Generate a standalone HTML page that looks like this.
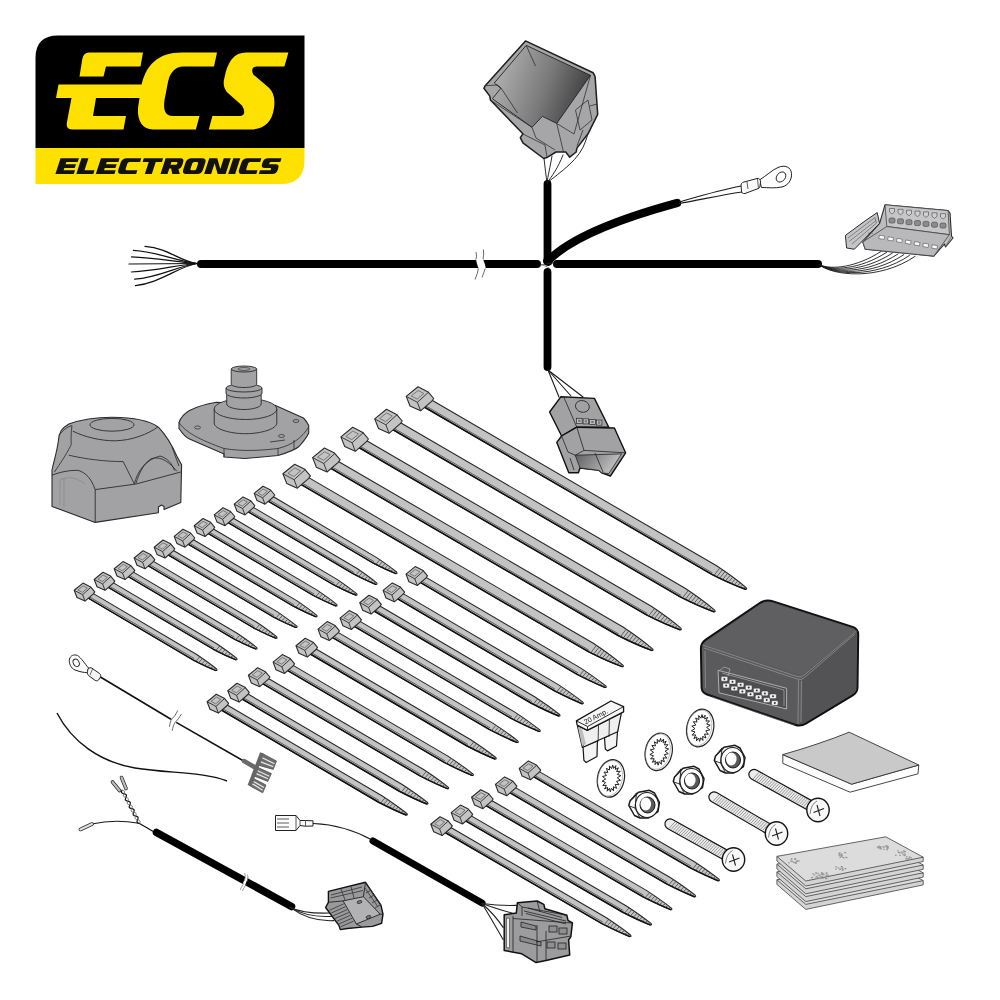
<!DOCTYPE html>
<html><head><meta charset="utf-8"><style>html,body{margin:0;padding:0;background:#fff;}svg{display:block;}</style></head>
<body><svg width="1000" height="1000" viewBox="0 0 1000 1000"><path d="M35.5,148 L35.5,58 Q35.5,35.5 58,35.5 L304.5,35.5 L304.5,148 Z" fill="#000"/>
<path d="M35.5,147.9 L304.5,147.9 L304.5,160 Q304.5,184 280.5,184 L35.5,184 Z" fill="#ffe100"/>
<path d="M89,52.5 L143,52.5 L140.5,66.5 L106,66.5 L103.5,76.5 L79.5,76.5 L82.3,59 Q83.5,52.5 89,52.5 Z" fill="#ffe100"/>
<path d="M58.5,84.5 L146,84.5 L143,98 L96,98 L93,115.9 L126,115.9 L123.5,129.5 L72,129.5 Q66,129.5 66.8,123 L71.5,98 L56,98 Z" fill="#ffe100"/>
<path d="M182,52.5 L217,52.5 L214,66.5 L183,66.5 C176,66.5 170,72 168,82 L164.5,100 C163,111 165.5,115.9 173,115.9 L199.5,115.9 L195.9,129.5 L153,129.5 C143,129.5 137,121 138,108 L141,88 C145,65 158,52.5 182,52.5 Z" fill="#ffe100"/>
<path d="M246,52.5 L288.4,52.5 L284.4,66.5 L257,66.5 Q250,67 253.2,74.4 L269.2,88 Q276,95 274,108 Q271,129.5 250,129.5 L208.8,129.5 L212.4,115.9 L241,115.9 Q247,114 242,105.6 L227.6,92.8 Q222,87 224.4,78 Q229,52.5 246,52.5 Z" fill="#ffe100"/>
<path transform="translate(55.4,174.1) skewX(-18)" d="M0,0 L0,-15.8 L18.4,-15.8 L18.4,-12.05 L7.0,-12.05 L7.0,-9.775 L17.4,-9.775 L17.4,-6.025 L7.0,-6.025 L7.0,-3.75 L18.4,-3.75 L18.4,0 Z" fill="#111" fill-rule="evenodd"/>
<path transform="translate(76.32,174.1) skewX(-18)" d="M0,0 L0,-15.8 L7.0,-15.8 L7.0,-3.75 L17.0,-3.75 L17.0,0 Z" fill="#111" fill-rule="evenodd"/>
<path transform="translate(95.84,174.1) skewX(-18)" d="M0,0 L0,-15.8 L18.6,-15.8 L18.6,-12.05 L7.0,-12.05 L7.0,-9.775 L17.6,-9.775 L17.6,-6.025 L7.0,-6.025 L7.0,-3.75 L18.6,-3.75 L18.6,0 Z" fill="#111" fill-rule="evenodd"/>
<path transform="translate(116.96,174.1) skewX(-18)" d="M19.2,-15.8 L4.5,-15.8 Q0,-15.8 0,-11.3 L0,-4.5 Q0,0 4.5,0 L19.2,0 L19.2,-3.75 L8.5,-3.75 Q7.0,-3.75 7.0,-5.25 L7.0,-10.55 Q7.0,-12.05 8.5,-12.05 L19.2,-12.05 Z" fill="#111" fill-rule="evenodd"/>
<path transform="translate(138.68,174.1) skewX(-18)" d="M0,-15.8 L19.3,-15.8 L19.3,-12.05 L13.15,-12.05 L13.15,0 L6.15,0 L6.15,-12.05 L0,-12.05 Z" fill="#111" fill-rule="evenodd"/>
<path transform="translate(160.5,174.1) skewX(-18)" d="M0,0 L0,-15.8 L14.8,-15.8 Q18.8,-15.8 18.8,-11.8 L18.8,-9.700000000000001 Q18.8,-5.700000000000001 16.3,-5.100000000000001 L19.3,0 L11.8,0 L8.8,-5.700000000000001 L7.0,-5.700000000000001 L7.0,0 Z M7.0,-12.05 L12.3,-12.05 Q13.3,-12.05 13.3,-11.05 L13.3,-10.450000000000001 Q13.3,-9.450000000000001 12.3,-9.450000000000001 L7.0,-9.450000000000001 Z" fill="#111" fill-rule="evenodd"/>
<path transform="translate(181.82,174.1) skewX(-18)" d="M4.5,-15.8 L15.3,-15.8 Q19.8,-15.8 19.8,-11.3 L19.8,-4.5 Q19.8,0 15.3,0 L4.5,0 Q0,0 0,-4.5 L0,-11.3 Q0,-15.8 4.5,-15.8 Z M8.5,-12.05 L11.3,-12.05 Q12.8,-12.05 12.8,-10.55 L12.8,-5.25 Q12.8,-3.75 11.3,-3.75 L8.5,-3.75 Q7.0,-3.75 7.0,-5.25 L7.0,-10.55 Q7.0,-12.05 8.5,-12.05 Z" fill="#111" fill-rule="evenodd"/>
<path transform="translate(204.14,174.1) skewX(-18)" d="M0,0 L0,-15.8 L8.0,-15.8 L14.5,-5 L14.5,-15.8 L21.5,-15.8 L21.5,0 L13.5,0 L7.0,-10.8 L7.0,0 Z" fill="#111" fill-rule="evenodd"/>
<path transform="translate(228.16,174.1) skewX(-18)" d="M0,0 L0,-15.8 L7.0,-15.8 L7.0,0 Z" fill="#111" fill-rule="evenodd"/>
<path transform="translate(237.68,174.1) skewX(-18)" d="M18.6,-15.8 L4.5,-15.8 Q0,-15.8 0,-11.3 L0,-4.5 Q0,0 4.5,0 L18.6,0 L18.6,-3.75 L8.5,-3.75 Q7.0,-3.75 7.0,-5.25 L7.0,-10.55 Q7.0,-12.05 8.5,-12.05 L18.6,-12.05 Z" fill="#111" fill-rule="evenodd"/>
<path transform="translate(258.8,174.1) skewX(-18)" d="M17.6,-15.8 L4,-15.8 Q0,-15.8 0,-11.8 L0,-10.025 Q0,-6.025 4,-6.025 L9.400000000000002,-6.025 Q10.600000000000001,-6.025 10.600000000000001,-4.825 L10.600000000000001,-4.95 Q10.600000000000001,-3.75 9.400000000000002,-3.75 L0,-3.75 L0,0 L13.600000000000001,0 Q17.6,0 17.6,-4 L17.6,-5.775 Q17.6,-9.775 13.600000000000001,-9.775 L8.2,-9.775 Q7.0,-9.775 7.0,-10.975 L7.0,-10.850000000000001 Q7.0,-12.05 8.2,-12.05 L17.6,-12.05 Z" fill="#111" fill-rule="evenodd"/>
<path d="M201,264 L537,264" fill="none" stroke="#000" stroke-width="8" stroke-linecap="round" stroke-linejoin="round"/>
<path d="M476,252 Q477,256 476,260 Q477,265 478.5,267.5 Q478,273 475,279.5 M483.5,249.5 Q484,255 483,260 Q485,264 485.5,267.5 Q484,272 482,277.5" fill="none" stroke="#444" stroke-width="0.8"/>
<path d="M476,259 Q477,264 478.5,268.5 L485.8,268.5 Q485,264 483,259 Z" fill="#fff"/>
<path d="M557,264 L818,264" fill="none" stroke="#000" stroke-width="8" stroke-linecap="round" stroke-linejoin="round"/>
<path d="M547.5,184 L547.5,258" fill="none" stroke="#000" stroke-width="7.8" stroke-linecap="round" stroke-linejoin="round"/>
<path d="M547.5,272 L547.5,367" fill="none" stroke="#000" stroke-width="7.8" stroke-linecap="round" stroke-linejoin="round"/>
<circle cx="548" cy="261" r="5" fill="#000"/>
<path d="M548,261 Q577.4,230.2 677,203" fill="none" stroke="#000" stroke-width="8.2" stroke-linecap="round" stroke-linejoin="round"/>
<path d="M540,264 Q546,266 549,268 M541,265 Q545,264 553,263" fill="none" stroke="#333" stroke-width="0.6"/>
<path d="M197,263.5 C178,260.9 170.0,248.5 145,246.4" fill="none" stroke="#111" stroke-width="1.2" stroke-linecap="round"/>
<path d="M197,263.5 C178,261.5 158.4,252.0 133.4,250.4" fill="none" stroke="#111" stroke-width="1.2" stroke-linecap="round"/>
<path d="M197,263.5 C178,262.4 156.4,257.7 131.4,256.8" fill="none" stroke="#111" stroke-width="1.2" stroke-linecap="round"/>
<path d="M197,263.5 C178,263.5 154.0,264.0 129,264" fill="none" stroke="#111" stroke-width="1.2" stroke-linecap="round"/>
<path d="M197,263.5 C178,264.7 156.4,271.0 131.4,272" fill="none" stroke="#111" stroke-width="1.2" stroke-linecap="round"/>
<path d="M197,263.5 C178,265.8 159.6,277.4 134.6,279.2" fill="none" stroke="#111" stroke-width="1.2" stroke-linecap="round"/>
<path d="M197,263.5 C178,266.7 160.4,283.0 135.4,285.6" fill="none" stroke="#111" stroke-width="1.2" stroke-linecap="round"/>
<path d="M428.2,398.0 L716.6,565.8 Q734.1,577.4 746.2,587.7 Q747.5,589.5 745.3,589.2 Q730.4,583.8 711.7,574.3 L423.3,406.5 Z" fill="#c3c3c3" stroke="#262626" stroke-width="1.05" stroke-linejoin="round"/>
<path d="M423.3,406.5 L711.7,574.3 Q730.4,583.8 745.3,589.2" fill="none" stroke="#111" stroke-width="1.5" stroke-linecap="round"/>
<path d="M424.2,405.0 L712.5,572.9" stroke="#333" stroke-width="0.7"/>
<path d="M719.6,568.2 L714.2,575.2 M722.3,569.9 L717.0,576.6 M724.9,571.7 L719.8,578.0 M727.5,573.5 L722.7,579.4 M730.1,575.4 L725.6,580.7 M732.6,577.3 L728.5,582.0 M735.1,579.3 L731.5,583.2 M737.7,581.3 L734.5,584.4 M740.1,583.3 L737.4,585.6 M742.6,585.3 L740.4,586.7 M745.1,587.4 L743.4,587.8 " stroke="#4a4a4a" stroke-width="0.85"/>
<path d="M418.0,386.8 L428.1,391.9 L433.7,398.5 L431.8,401.2 L420.6,410.8 L410.0,406.0 L406.2,396.4Z" fill="#c3c3c3" stroke="#2a2a2a" stroke-width="1.1" stroke-linejoin="round"/>
<path d="M406.2,396.4 L417.4,402.3 L428.6,392.1 M417.4,402.3 L420.6,410.8" fill="none" stroke="#2a2a2a" stroke-width="0.9"/>
<path d="M411.2,396.0 L418.1,390.5 L423.8,393.5 L417.2,399.1Z" fill="none" stroke="#555" stroke-width="0.7"/>
<path d="M396.7,420.5 L685.1,588.3 Q702.6,599.9 714.7,610.2 Q716.0,612.0 713.8,611.7 Q698.9,606.3 680.2,596.8 L391.8,429.0 Z" fill="#c3c3c3" stroke="#262626" stroke-width="1.05" stroke-linejoin="round"/>
<path d="M391.8,429.0 L680.2,596.8 Q698.9,606.3 713.8,611.7" fill="none" stroke="#111" stroke-width="1.5" stroke-linecap="round"/>
<path d="M392.7,427.5 L681.0,595.4" stroke="#333" stroke-width="0.7"/>
<path d="M688.1,590.7 L682.7,597.7 M690.8,592.4 L685.5,599.1 M693.4,594.2 L688.3,600.5 M696.0,596.0 L691.2,601.9 M698.6,597.9 L694.1,603.2 M701.1,599.8 L697.0,604.5 M703.6,601.8 L700.0,605.7 M706.2,603.8 L703.0,606.9 M708.6,605.8 L705.9,608.1 M711.1,607.8 L708.9,609.2 M713.6,609.9 L711.9,610.3 " stroke="#4a4a4a" stroke-width="0.85"/>
<path d="M386.5,409.3 L396.6,414.4 L402.2,421.0 L400.3,423.7 L389.1,433.3 L378.5,428.5 L374.7,418.9Z" fill="#c3c3c3" stroke="#2a2a2a" stroke-width="1.1" stroke-linejoin="round"/>
<path d="M374.7,418.9 L385.9,424.8 L397.1,414.6 M385.9,424.8 L389.1,433.3" fill="none" stroke="#2a2a2a" stroke-width="0.9"/>
<path d="M379.7,418.5 L386.6,413.0 L392.3,416.0 L385.7,421.6Z" fill="none" stroke="#555" stroke-width="0.7"/>
<path d="M362.9,438.5 L651.3,606.3 Q668.8,617.9 680.9,628.2 Q682.2,630.0 680.0,629.7 Q665.1,624.3 646.4,614.8 L358.0,447.0 Z" fill="#c3c3c3" stroke="#262626" stroke-width="1.05" stroke-linejoin="round"/>
<path d="M358.0,447.0 L646.4,614.8 Q665.1,624.3 680.0,629.7" fill="none" stroke="#111" stroke-width="1.5" stroke-linecap="round"/>
<path d="M358.9,445.5 L647.2,613.4" stroke="#333" stroke-width="0.7"/>
<path d="M654.3,608.7 L648.9,615.7 M657.0,610.4 L651.7,617.1 M659.6,612.2 L654.5,618.5 M662.2,614.0 L657.4,619.9 M664.8,615.9 L660.3,621.2 M667.3,617.8 L663.2,622.5 M669.8,619.8 L666.2,623.7 M672.4,621.8 L669.2,624.9 M674.8,623.8 L672.1,626.1 M677.3,625.8 L675.1,627.2 M679.8,627.9 L678.1,628.3 " stroke="#4a4a4a" stroke-width="0.85"/>
<path d="M352.7,427.3 L362.8,432.4 L368.4,439.0 L366.5,441.7 L355.3,451.3 L344.7,446.5 L340.9,436.9Z" fill="#c3c3c3" stroke="#2a2a2a" stroke-width="1.1" stroke-linejoin="round"/>
<path d="M340.9,436.9 L352.1,442.8 L363.3,432.6 M352.1,442.8 L355.3,451.3" fill="none" stroke="#2a2a2a" stroke-width="0.9"/>
<path d="M345.9,436.5 L352.8,431.0 L358.5,434.0 L351.9,439.6Z" fill="none" stroke="#555" stroke-width="0.7"/>
<path d="M334.6,459.2 L623.0,627.0 Q640.5,638.6 652.6,648.9 Q653.9,650.7 651.7,650.4 Q636.8,645.0 618.1,635.5 L329.7,467.7 Z" fill="#c3c3c3" stroke="#262626" stroke-width="1.05" stroke-linejoin="round"/>
<path d="M329.7,467.7 L618.1,635.5 Q636.8,645.0 651.7,650.4" fill="none" stroke="#111" stroke-width="1.5" stroke-linecap="round"/>
<path d="M330.6,466.2 L618.9,634.1" stroke="#333" stroke-width="0.7"/>
<path d="M626.0,629.4 L620.6,636.4 M628.7,631.1 L623.4,637.8 M631.3,632.9 L626.2,639.2 M633.9,634.7 L629.1,640.6 M636.5,636.6 L632.0,641.9 M639.0,638.5 L634.9,643.2 M641.5,640.5 L637.9,644.4 M644.1,642.5 L640.9,645.6 M646.5,644.5 L643.8,646.8 M649.0,646.5 L646.8,647.9 M651.5,648.6 L649.8,649.0 " stroke="#4a4a4a" stroke-width="0.85"/>
<path d="M324.4,448.0 L334.5,453.1 L340.1,459.7 L338.2,462.4 L327.0,472.0 L316.4,467.2 L312.6,457.6Z" fill="#c3c3c3" stroke="#2a2a2a" stroke-width="1.1" stroke-linejoin="round"/>
<path d="M312.6,457.6 L323.8,463.5 L335.0,453.3 M323.8,463.5 L327.0,472.0" fill="none" stroke="#2a2a2a" stroke-width="0.9"/>
<path d="M317.6,457.2 L324.5,451.7 L330.2,454.7 L323.6,460.3Z" fill="none" stroke="#555" stroke-width="0.7"/>
<path d="M304.9,475.4 L593.3,643.2 Q610.8,654.8 622.9,665.1 Q624.2,666.9 622.0,666.6 Q607.1,661.2 588.4,651.7 L300.0,483.9 Z" fill="#c3c3c3" stroke="#262626" stroke-width="1.05" stroke-linejoin="round"/>
<path d="M300.0,483.9 L588.4,651.7 Q607.1,661.2 622.0,666.6" fill="none" stroke="#111" stroke-width="1.5" stroke-linecap="round"/>
<path d="M300.9,482.4 L589.2,650.3" stroke="#333" stroke-width="0.7"/>
<path d="M596.3,645.6 L590.9,652.6 M599.0,647.3 L593.7,654.0 M601.6,649.1 L596.5,655.4 M604.2,650.9 L599.4,656.8 M606.8,652.8 L602.3,658.1 M609.3,654.7 L605.2,659.4 M611.8,656.7 L608.2,660.6 M614.4,658.7 L611.2,661.8 M616.8,660.7 L614.1,663.0 M619.3,662.7 L617.1,664.1 M621.8,664.8 L620.1,665.2 " stroke="#4a4a4a" stroke-width="0.85"/>
<path d="M294.7,464.2 L304.8,469.3 L310.4,475.9 L308.5,478.6 L297.3,488.2 L286.7,483.4 L282.9,473.8Z" fill="#c3c3c3" stroke="#2a2a2a" stroke-width="1.1" stroke-linejoin="round"/>
<path d="M282.9,473.8 L294.1,479.7 L305.3,469.5 M294.1,479.7 L297.3,488.2" fill="none" stroke="#2a2a2a" stroke-width="0.9"/>
<path d="M287.9,473.4 L294.8,467.9 L300.5,470.9 L293.9,476.5Z" fill="none" stroke="#555" stroke-width="0.7"/>
<path d="M90.5,591.9 L196.7,654.5 Q208.6,662.5 216.6,669.0 Q217.9,670.8 215.7,670.5 Q206.1,666.7 193.4,660.1 L87.2,597.5 Z" fill="#c3c3c3" stroke="#262626" stroke-width="1.05" stroke-linejoin="round"/>
<path d="M87.2,597.5 L193.4,660.1 Q206.1,666.7 215.7,670.5" fill="none" stroke="#111" stroke-width="1.3" stroke-linecap="round"/>
<path d="M88.0,596.0 L194.2,658.6" stroke="#333" stroke-width="0.7"/>
<path d="M199.8,656.8 L195.8,661.1 M202.5,658.6 L198.7,662.6 M205.1,660.5 L201.7,664.0 M207.7,662.5 L204.7,665.3 M210.3,664.5 L207.7,666.6 M212.9,666.6 L210.7,667.8 M215.4,668.7 L213.8,669.0 " stroke="#4a4a4a" stroke-width="0.85"/>
<path d="M83.0,583.1 L90.6,586.9 L94.8,591.9 L93.4,593.9 L85.0,601.1 L77.0,597.5 L74.2,590.3Z" fill="#c3c3c3" stroke="#2a2a2a" stroke-width="1.1" stroke-linejoin="round"/>
<path d="M74.2,590.3 L82.6,594.7 L91.0,587.1 M82.6,594.7 L85.0,601.1" fill="none" stroke="#2a2a2a" stroke-width="0.9"/>
<path d="M77.9,590.0 L83.1,585.9 L87.4,588.1 L82.4,592.3Z" fill="none" stroke="#555" stroke-width="0.7"/>
<path d="M110.5,581.1 L216.7,643.7 Q228.6,651.7 236.6,658.2 Q237.9,660.0 235.7,659.7 Q226.1,655.9 213.4,649.3 L107.2,586.7 Z" fill="#c3c3c3" stroke="#262626" stroke-width="1.05" stroke-linejoin="round"/>
<path d="M107.2,586.7 L213.4,649.3 Q226.1,655.9 235.7,659.7" fill="none" stroke="#111" stroke-width="1.3" stroke-linecap="round"/>
<path d="M108.0,585.3 L214.2,647.9" stroke="#333" stroke-width="0.7"/>
<path d="M219.8,646.0 L215.8,650.4 M222.5,647.8 L218.7,651.8 M225.1,649.7 L221.7,653.2 M227.7,651.7 L224.7,654.5 M230.3,653.7 L227.7,655.8 M232.9,655.8 L230.7,657.1 M235.4,657.9 L233.8,658.3 " stroke="#4a4a4a" stroke-width="0.85"/>
<path d="M103.0,572.3 L110.6,576.1 L114.8,581.1 L113.4,583.1 L105.0,590.3 L97.0,586.7 L94.2,579.5Z" fill="#c3c3c3" stroke="#2a2a2a" stroke-width="1.1" stroke-linejoin="round"/>
<path d="M94.2,579.5 L102.6,583.9 L111.0,576.3 M102.6,583.9 L105.0,590.3" fill="none" stroke="#2a2a2a" stroke-width="0.9"/>
<path d="M97.9,579.2 L103.1,575.1 L107.4,577.3 L102.4,581.5Z" fill="none" stroke="#555" stroke-width="0.7"/>
<path d="M130.5,570.4 L236.7,633.0 Q248.6,640.9 256.6,647.4 Q257.9,649.3 255.7,649.0 Q246.1,645.1 233.4,638.6 L127.2,576.0 Z" fill="#c3c3c3" stroke="#262626" stroke-width="1.05" stroke-linejoin="round"/>
<path d="M127.2,576.0 L233.4,638.6 Q246.1,645.1 255.7,649.0" fill="none" stroke="#111" stroke-width="1.3" stroke-linecap="round"/>
<path d="M128.0,574.5 L234.2,637.1" stroke="#333" stroke-width="0.7"/>
<path d="M239.8,635.2 L235.8,639.6 M242.5,637.1 L238.7,641.0 M245.1,639.0 L241.7,642.4 M247.7,640.9 L244.7,643.8 M250.3,643.0 L247.7,645.1 M252.9,645.0 L250.7,646.3 M255.4,647.1 L253.8,647.5 " stroke="#4a4a4a" stroke-width="0.85"/>
<path d="M123.0,561.6 L130.6,565.4 L134.8,570.4 L133.4,572.4 L125.0,579.6 L117.0,576.0 L114.2,568.8Z" fill="#c3c3c3" stroke="#2a2a2a" stroke-width="1.1" stroke-linejoin="round"/>
<path d="M114.2,568.8 L122.6,573.2 L131.0,565.6 M122.6,573.2 L125.0,579.6" fill="none" stroke="#2a2a2a" stroke-width="0.9"/>
<path d="M117.9,568.5 L123.1,564.4 L127.4,566.6 L122.4,570.8Z" fill="none" stroke="#555" stroke-width="0.7"/>
<path d="M150.5,559.6 L256.7,622.2 Q268.6,630.1 276.6,636.7 Q277.9,638.5 275.7,638.2 Q266.1,634.3 253.4,627.8 L147.2,565.2 Z" fill="#c3c3c3" stroke="#262626" stroke-width="1.05" stroke-linejoin="round"/>
<path d="M147.2,565.2 L253.4,627.8 Q266.1,634.3 275.7,638.2" fill="none" stroke="#111" stroke-width="1.3" stroke-linecap="round"/>
<path d="M148.0,563.7 L254.2,626.3" stroke="#333" stroke-width="0.7"/>
<path d="M259.8,624.5 L255.8,628.8 M262.5,626.3 L258.7,630.3 M265.1,628.2 L261.7,631.7 M267.7,630.2 L264.7,633.0 M270.3,632.2 L267.7,634.3 M272.9,634.2 L270.7,635.5 M275.4,636.3 L273.8,636.7 " stroke="#4a4a4a" stroke-width="0.85"/>
<path d="M143.0,550.8 L150.6,554.6 L154.8,559.6 L153.4,561.6 L145.0,568.8 L137.0,565.2 L134.2,558.0Z" fill="#c3c3c3" stroke="#2a2a2a" stroke-width="1.1" stroke-linejoin="round"/>
<path d="M134.2,558.0 L142.6,562.4 L151.0,554.8 M142.6,562.4 L145.0,568.8" fill="none" stroke="#2a2a2a" stroke-width="0.9"/>
<path d="M137.9,557.7 L143.1,553.6 L147.4,555.8 L142.4,560.0Z" fill="none" stroke="#555" stroke-width="0.7"/>
<path d="M170.5,548.8 L276.7,611.4 Q288.6,619.4 296.6,625.9 Q297.9,627.7 295.7,627.4 Q286.1,623.6 273.4,617.0 L167.2,554.4 Z" fill="#c3c3c3" stroke="#262626" stroke-width="1.05" stroke-linejoin="round"/>
<path d="M167.2,554.4 L273.4,617.0 Q286.1,623.6 295.7,627.4" fill="none" stroke="#111" stroke-width="1.3" stroke-linecap="round"/>
<path d="M168.0,553.0 L274.2,615.6" stroke="#333" stroke-width="0.7"/>
<path d="M279.8,613.7 L275.8,618.0 M282.5,615.5 L278.7,619.5 M285.1,617.4 L281.7,620.9 M287.7,619.4 L284.7,622.2 M290.3,621.4 L287.7,623.5 M292.9,623.5 L290.7,624.8 M295.4,625.6 L293.8,626.0 " stroke="#4a4a4a" stroke-width="0.85"/>
<path d="M163.0,540.0 L170.6,543.8 L174.8,548.8 L173.4,550.8 L165.0,558.0 L157.0,554.4 L154.2,547.2Z" fill="#c3c3c3" stroke="#2a2a2a" stroke-width="1.1" stroke-linejoin="round"/>
<path d="M154.2,547.2 L162.6,551.6 L171.0,544.0 M162.6,551.6 L165.0,558.0" fill="none" stroke="#2a2a2a" stroke-width="0.9"/>
<path d="M157.9,546.9 L163.1,542.8 L167.4,545.0 L162.4,549.2Z" fill="none" stroke="#555" stroke-width="0.7"/>
<path d="M190.5,538.0 L296.7,600.6 Q308.6,608.6 316.6,615.1 Q317.9,617.0 315.7,616.7 Q306.1,612.8 293.4,606.2 L187.2,543.6 Z" fill="#c3c3c3" stroke="#262626" stroke-width="1.05" stroke-linejoin="round"/>
<path d="M187.2,543.6 L293.4,606.2 Q306.1,612.8 315.7,616.7" fill="none" stroke="#111" stroke-width="1.3" stroke-linecap="round"/>
<path d="M188.0,542.2 L294.2,604.8" stroke="#333" stroke-width="0.7"/>
<path d="M299.8,602.9 L295.8,607.3 M302.5,604.8 L298.7,608.7 M305.1,606.7 L301.7,610.1 M307.7,608.6 L304.7,611.5 M310.3,610.6 L307.7,612.8 M312.9,612.7 L310.7,614.0 M315.4,614.8 L313.8,615.2 " stroke="#4a4a4a" stroke-width="0.85"/>
<path d="M183.0,529.2 L190.6,533.0 L194.8,538.0 L193.4,540.0 L185.0,547.2 L177.0,543.6 L174.2,536.4Z" fill="#c3c3c3" stroke="#2a2a2a" stroke-width="1.1" stroke-linejoin="round"/>
<path d="M174.2,536.4 L182.6,540.9 L191.0,533.2 M182.6,540.9 L185.0,547.2" fill="none" stroke="#2a2a2a" stroke-width="0.9"/>
<path d="M177.9,536.1 L183.1,532.0 L187.4,534.2 L182.4,538.4Z" fill="none" stroke="#555" stroke-width="0.7"/>
<path d="M210.5,527.3 L316.7,589.9 Q328.6,597.8 336.6,604.3 Q337.9,606.2 335.7,605.9 Q326.1,602.0 313.4,595.5 L207.2,532.9 Z" fill="#c3c3c3" stroke="#262626" stroke-width="1.05" stroke-linejoin="round"/>
<path d="M207.2,532.9 L313.4,595.5 Q326.1,602.0 335.7,605.9" fill="none" stroke="#111" stroke-width="1.3" stroke-linecap="round"/>
<path d="M208.0,531.4 L314.2,594.0" stroke="#333" stroke-width="0.7"/>
<path d="M319.8,592.1 L315.8,596.5 M322.5,594.0 L318.7,598.0 M325.1,595.9 L321.7,599.4 M327.7,597.9 L324.7,600.7 M330.3,599.9 L327.7,602.0 M332.9,601.9 L330.7,603.2 M335.4,604.0 L333.8,604.4 " stroke="#4a4a4a" stroke-width="0.85"/>
<path d="M203.0,518.5 L210.6,522.3 L214.8,527.3 L213.4,529.3 L205.0,536.5 L197.0,532.9 L194.2,525.7Z" fill="#c3c3c3" stroke="#2a2a2a" stroke-width="1.1" stroke-linejoin="round"/>
<path d="M194.2,525.7 L202.6,530.1 L211.0,522.5 M202.6,530.1 L205.0,536.5" fill="none" stroke="#2a2a2a" stroke-width="0.9"/>
<path d="M197.9,525.4 L203.1,521.3 L207.4,523.5 L202.4,527.7Z" fill="none" stroke="#555" stroke-width="0.7"/>
<path d="M230.5,516.5 L336.7,579.1 Q348.6,587.1 356.6,593.6 Q357.9,595.4 355.7,595.1 Q346.1,591.3 333.4,584.7 L227.2,522.1 Z" fill="#c3c3c3" stroke="#262626" stroke-width="1.05" stroke-linejoin="round"/>
<path d="M227.2,522.1 L333.4,584.7 Q346.1,591.3 355.7,595.1" fill="none" stroke="#111" stroke-width="1.3" stroke-linecap="round"/>
<path d="M228.0,520.6 L334.2,583.2" stroke="#333" stroke-width="0.7"/>
<path d="M339.8,581.4 L335.8,585.7 M342.5,583.2 L338.7,587.2 M345.1,585.1 L341.7,588.6 M347.7,587.1 L344.7,589.9 M350.3,589.1 L347.7,591.2 M352.9,591.2 L350.7,592.5 M355.4,593.3 L353.8,593.7 " stroke="#4a4a4a" stroke-width="0.85"/>
<path d="M223.0,507.7 L230.6,511.5 L234.8,516.5 L233.4,518.5 L225.0,525.7 L217.0,522.1 L214.2,514.9Z" fill="#c3c3c3" stroke="#2a2a2a" stroke-width="1.1" stroke-linejoin="round"/>
<path d="M214.2,514.9 L222.6,519.3 L231.0,511.7 M222.6,519.3 L225.0,525.7" fill="none" stroke="#2a2a2a" stroke-width="0.9"/>
<path d="M217.9,514.6 L223.1,510.5 L227.4,512.7 L222.4,516.9Z" fill="none" stroke="#555" stroke-width="0.7"/>
<path d="M250.5,505.7 L356.7,568.3 Q368.6,576.3 376.6,582.8 Q377.9,584.6 375.7,584.4 Q366.1,580.5 353.4,573.9 L247.2,511.3 Z" fill="#c3c3c3" stroke="#262626" stroke-width="1.05" stroke-linejoin="round"/>
<path d="M247.2,511.3 L353.4,573.9 Q366.1,580.5 375.7,584.4" fill="none" stroke="#111" stroke-width="1.3" stroke-linecap="round"/>
<path d="M248.0,509.9 L354.2,572.5" stroke="#333" stroke-width="0.7"/>
<path d="M359.8,570.6 L355.8,575.0 M362.5,572.4 L358.7,576.4 M365.1,574.4 L361.7,577.8 M367.7,576.3 L364.7,579.2 M370.3,578.3 L367.7,580.4 M372.9,580.4 L370.7,581.7 M375.4,582.5 L373.8,582.9 " stroke="#4a4a4a" stroke-width="0.85"/>
<path d="M243.0,496.9 L250.6,500.7 L254.8,505.7 L253.4,507.7 L245.0,514.9 L237.0,511.3 L234.2,504.1Z" fill="#c3c3c3" stroke="#2a2a2a" stroke-width="1.1" stroke-linejoin="round"/>
<path d="M234.2,504.1 L242.6,508.5 L251.0,500.9 M242.6,508.5 L245.0,514.9" fill="none" stroke="#2a2a2a" stroke-width="0.9"/>
<path d="M237.9,503.8 L243.1,499.7 L247.4,501.9 L242.4,506.1Z" fill="none" stroke="#555" stroke-width="0.7"/>
<path d="M270.5,495.0 L376.7,557.6 Q388.6,565.5 396.6,572.0 Q397.9,573.9 395.7,573.6 Q386.1,569.7 373.4,563.2 L267.2,500.6 Z" fill="#c3c3c3" stroke="#262626" stroke-width="1.05" stroke-linejoin="round"/>
<path d="M267.2,500.6 L373.4,563.2 Q386.1,569.7 395.7,573.6" fill="none" stroke="#111" stroke-width="1.3" stroke-linecap="round"/>
<path d="M268.0,499.1 L374.2,561.7" stroke="#333" stroke-width="0.7"/>
<path d="M379.8,559.8 L375.8,564.2 M382.5,561.7 L378.7,565.7 M385.1,563.6 L381.7,567.1 M387.7,565.5 L384.7,568.4 M390.3,567.6 L387.7,569.7 M392.9,569.6 L390.7,570.9 M395.4,571.7 L393.8,572.1 " stroke="#4a4a4a" stroke-width="0.85"/>
<path d="M263.0,486.2 L270.6,490.0 L274.8,495.0 L273.4,497.0 L265.0,504.2 L257.0,500.6 L254.2,493.4Z" fill="#c3c3c3" stroke="#2a2a2a" stroke-width="1.1" stroke-linejoin="round"/>
<path d="M254.2,493.4 L262.6,497.8 L271.0,490.2 M262.6,497.8 L265.0,504.2" fill="none" stroke="#2a2a2a" stroke-width="0.9"/>
<path d="M257.9,493.1 L263.1,489.0 L267.4,491.2 L262.4,495.4Z" fill="none" stroke="#555" stroke-width="0.7"/>
<path d="M423.1,575.6 L580.8,668.1 Q595.6,677.8 605.8,685.9 Q607.1,687.7 604.9,687.4 Q592.8,682.5 577.1,674.4 L419.4,581.9 Z" fill="#c3c3c3" stroke="#262626" stroke-width="1.05" stroke-linejoin="round"/>
<path d="M419.4,581.9 L577.1,674.4 Q592.8,682.5 604.9,687.4" fill="none" stroke="#111" stroke-width="1.5" stroke-linecap="round"/>
<path d="M420.3,580.4 L578.0,672.9" stroke="#333" stroke-width="0.7"/>
<path d="M583.9,670.3 L579.6,675.4 M586.6,672.1 L582.4,676.8 M589.2,673.9 L585.3,678.2 M591.9,675.8 L588.2,679.6 M594.5,677.7 L591.1,680.9 M597.0,679.6 L594.1,682.2 M599.6,681.6 L597.1,683.5 M602.1,683.6 L600.1,684.7 M604.6,685.6 L603.1,685.9 " stroke="#4a4a4a" stroke-width="0.85"/>
<path d="M415.2,566.6 L423.1,570.6 L427.5,575.8 L426.1,577.9 L417.3,585.5 L408.9,581.7 L406.0,574.1Z" fill="#c3c3c3" stroke="#2a2a2a" stroke-width="1.1" stroke-linejoin="round"/>
<path d="M406.0,574.1 L414.8,578.8 L423.6,570.8 M414.8,578.8 L417.3,585.5" fill="none" stroke="#2a2a2a" stroke-width="0.9"/>
<path d="M409.8,573.8 L415.3,569.5 L419.8,571.8 L414.6,576.2Z" fill="none" stroke="#555" stroke-width="0.7"/>
<path d="M400.2,591.9 L557.9,684.4 Q572.7,694.1 582.9,702.2 Q584.2,704.0 582.0,703.7 Q569.9,698.8 554.2,690.7 L396.5,598.2 Z" fill="#c3c3c3" stroke="#262626" stroke-width="1.05" stroke-linejoin="round"/>
<path d="M396.5,598.2 L554.2,690.7 Q569.9,698.8 582.0,703.7" fill="none" stroke="#111" stroke-width="1.5" stroke-linecap="round"/>
<path d="M397.4,596.7 L555.1,689.2" stroke="#333" stroke-width="0.7"/>
<path d="M561.0,686.6 L556.7,691.7 M563.7,688.4 L559.5,693.1 M566.3,690.2 L562.4,694.5 M569.0,692.1 L565.3,695.9 M571.6,694.0 L568.2,697.2 M574.1,695.9 L571.2,698.5 M576.7,697.9 L574.2,699.8 M579.2,699.9 L577.2,701.0 M581.7,701.9 L580.2,702.2 " stroke="#4a4a4a" stroke-width="0.85"/>
<path d="M392.3,582.9 L400.2,586.9 L404.6,592.1 L403.2,594.2 L394.4,601.8 L386.0,598.0 L383.1,590.4Z" fill="#c3c3c3" stroke="#2a2a2a" stroke-width="1.1" stroke-linejoin="round"/>
<path d="M383.1,590.4 L391.9,595.1 L400.7,587.1 M391.9,595.1 L394.4,601.8" fill="none" stroke="#2a2a2a" stroke-width="0.9"/>
<path d="M386.9,590.1 L392.4,585.8 L396.9,588.1 L391.7,592.5Z" fill="none" stroke="#555" stroke-width="0.7"/>
<path d="M376.9,604.2 L534.6,696.7 Q549.4,706.4 559.6,714.5 Q560.9,716.3 558.7,716.0 Q546.6,711.1 530.9,703.0 L373.2,610.5 Z" fill="#c3c3c3" stroke="#262626" stroke-width="1.05" stroke-linejoin="round"/>
<path d="M373.2,610.5 L530.9,703.0 Q546.6,711.1 558.7,716.0" fill="none" stroke="#111" stroke-width="1.5" stroke-linecap="round"/>
<path d="M374.1,609.0 L531.8,701.5" stroke="#333" stroke-width="0.7"/>
<path d="M537.7,698.9 L533.4,704.0 M540.4,700.7 L536.2,705.4 M543.0,702.5 L539.1,706.8 M545.7,704.4 L542.0,708.2 M548.3,706.3 L544.9,709.5 M550.8,708.2 L547.9,710.8 M553.4,710.2 L550.9,712.1 M555.9,712.2 L553.9,713.3 M558.4,714.2 L556.9,714.5 " stroke="#4a4a4a" stroke-width="0.85"/>
<path d="M369.0,595.2 L376.9,599.2 L381.3,604.4 L379.9,606.5 L371.1,614.1 L362.7,610.3 L359.8,602.7Z" fill="#c3c3c3" stroke="#2a2a2a" stroke-width="1.1" stroke-linejoin="round"/>
<path d="M359.8,602.7 L368.6,607.4 L377.4,599.4 M368.6,607.4 L371.1,614.1" fill="none" stroke="#2a2a2a" stroke-width="0.9"/>
<path d="M363.6,602.4 L369.1,598.1 L373.6,600.4 L368.4,604.8Z" fill="none" stroke="#555" stroke-width="0.7"/>
<path d="M357.1,619.6 L514.8,712.1 Q529.6,721.8 539.8,729.9 Q541.1,731.7 538.9,731.4 Q526.8,726.5 511.1,718.4 L353.4,625.9 Z" fill="#c3c3c3" stroke="#262626" stroke-width="1.05" stroke-linejoin="round"/>
<path d="M353.4,625.9 L511.1,718.4 Q526.8,726.5 538.9,731.4" fill="none" stroke="#111" stroke-width="1.5" stroke-linecap="round"/>
<path d="M354.3,624.4 L512.0,716.9" stroke="#333" stroke-width="0.7"/>
<path d="M517.9,714.3 L513.6,719.4 M520.6,716.1 L516.4,720.8 M523.2,717.9 L519.3,722.2 M525.9,719.8 L522.2,723.6 M528.5,721.7 L525.1,724.9 M531.0,723.6 L528.1,726.2 M533.6,725.6 L531.1,727.5 M536.1,727.6 L534.1,728.7 M538.6,729.6 L537.1,729.9 " stroke="#4a4a4a" stroke-width="0.85"/>
<path d="M349.2,610.6 L357.1,614.6 L361.5,619.8 L360.1,621.9 L351.3,629.5 L342.9,625.7 L340.0,618.1Z" fill="#c3c3c3" stroke="#2a2a2a" stroke-width="1.1" stroke-linejoin="round"/>
<path d="M340.0,618.1 L348.8,622.8 L357.6,614.8 M348.8,622.8 L351.3,629.5" fill="none" stroke="#2a2a2a" stroke-width="0.9"/>
<path d="M343.8,617.8 L349.3,613.5 L353.8,615.8 L348.6,620.2Z" fill="none" stroke="#555" stroke-width="0.7"/>
<path d="M335.1,630.6 L492.8,723.1 Q507.6,732.8 517.8,740.9 Q519.1,742.7 516.9,742.4 Q504.8,737.5 489.1,729.4 L331.4,636.9 Z" fill="#c3c3c3" stroke="#262626" stroke-width="1.05" stroke-linejoin="round"/>
<path d="M331.4,636.9 L489.1,729.4 Q504.8,737.5 516.9,742.4" fill="none" stroke="#111" stroke-width="1.5" stroke-linecap="round"/>
<path d="M332.3,635.4 L490.0,727.9" stroke="#333" stroke-width="0.7"/>
<path d="M495.9,725.3 L491.6,730.4 M498.6,727.1 L494.4,731.8 M501.2,728.9 L497.3,733.2 M503.9,730.8 L500.2,734.6 M506.5,732.7 L503.1,735.9 M509.0,734.6 L506.1,737.2 M511.6,736.6 L509.1,738.5 M514.1,738.6 L512.1,739.7 M516.6,740.6 L515.1,740.9 " stroke="#4a4a4a" stroke-width="0.85"/>
<path d="M327.2,621.6 L335.1,625.6 L339.5,630.8 L338.1,632.9 L329.3,640.5 L320.9,636.7 L318.0,629.1Z" fill="#c3c3c3" stroke="#2a2a2a" stroke-width="1.1" stroke-linejoin="round"/>
<path d="M318.0,629.1 L326.8,633.8 L335.6,625.8 M326.8,633.8 L329.3,640.5" fill="none" stroke="#2a2a2a" stroke-width="0.9"/>
<path d="M321.8,628.8 L327.3,624.5 L331.8,626.8 L326.6,631.2Z" fill="none" stroke="#555" stroke-width="0.7"/>
<path d="M313.1,647.2 L470.8,739.7 Q485.6,749.4 495.8,757.5 Q497.1,759.3 494.9,759.0 Q482.8,754.1 467.1,746.0 L309.4,653.5 Z" fill="#c3c3c3" stroke="#262626" stroke-width="1.05" stroke-linejoin="round"/>
<path d="M309.4,653.5 L467.1,746.0 Q482.8,754.1 494.9,759.0" fill="none" stroke="#111" stroke-width="1.5" stroke-linecap="round"/>
<path d="M310.3,652.0 L468.0,744.5" stroke="#333" stroke-width="0.7"/>
<path d="M473.9,741.9 L469.6,747.0 M476.6,743.7 L472.4,748.4 M479.2,745.5 L475.3,749.8 M481.9,747.4 L478.2,751.2 M484.5,749.3 L481.1,752.5 M487.0,751.2 L484.1,753.8 M489.6,753.2 L487.1,755.1 M492.1,755.2 L490.1,756.3 M494.6,757.2 L493.1,757.5 " stroke="#4a4a4a" stroke-width="0.85"/>
<path d="M305.2,638.2 L313.1,642.2 L317.5,647.4 L316.1,649.5 L307.3,657.1 L298.9,653.3 L296.0,645.7Z" fill="#c3c3c3" stroke="#2a2a2a" stroke-width="1.1" stroke-linejoin="round"/>
<path d="M296.0,645.7 L304.8,650.4 L313.6,642.4 M304.8,650.4 L307.3,657.1" fill="none" stroke="#2a2a2a" stroke-width="0.9"/>
<path d="M299.8,645.4 L305.3,641.1 L309.8,643.4 L304.6,647.8Z" fill="none" stroke="#555" stroke-width="0.7"/>
<path d="M290.2,663.6 L447.9,756.1 Q462.7,765.8 472.9,773.9 Q474.2,775.7 472.0,775.4 Q459.9,770.5 444.2,762.4 L286.5,669.9 Z" fill="#c3c3c3" stroke="#262626" stroke-width="1.05" stroke-linejoin="round"/>
<path d="M286.5,669.9 L444.2,762.4 Q459.9,770.5 472.0,775.4" fill="none" stroke="#111" stroke-width="1.5" stroke-linecap="round"/>
<path d="M287.4,668.4 L445.1,760.9" stroke="#333" stroke-width="0.7"/>
<path d="M451.0,758.3 L446.7,763.4 M453.7,760.1 L449.5,764.8 M456.3,761.9 L452.4,766.2 M459.0,763.8 L455.3,767.6 M461.6,765.7 L458.2,768.9 M464.1,767.6 L461.2,770.2 M466.7,769.6 L464.2,771.5 M469.2,771.6 L467.2,772.7 M471.7,773.6 L470.2,773.9 " stroke="#4a4a4a" stroke-width="0.85"/>
<path d="M282.3,654.6 L290.2,658.6 L294.6,663.8 L293.2,665.9 L284.4,673.5 L276.0,669.7 L273.1,662.1Z" fill="#c3c3c3" stroke="#2a2a2a" stroke-width="1.1" stroke-linejoin="round"/>
<path d="M273.1,662.1 L281.9,666.8 L290.7,658.8 M281.9,666.8 L284.4,673.5" fill="none" stroke="#2a2a2a" stroke-width="0.9"/>
<path d="M276.9,661.8 L282.4,657.5 L286.9,659.8 L281.7,664.2Z" fill="none" stroke="#555" stroke-width="0.7"/>
<path d="M265.5,676.8 L423.2,769.3 Q438.0,779.0 448.2,787.1 Q449.5,788.9 447.3,788.6 Q435.2,783.7 419.5,775.6 L261.8,683.1 Z" fill="#c3c3c3" stroke="#262626" stroke-width="1.05" stroke-linejoin="round"/>
<path d="M261.8,683.1 L419.5,775.6 Q435.2,783.7 447.3,788.6" fill="none" stroke="#111" stroke-width="1.5" stroke-linecap="round"/>
<path d="M262.7,681.6 L420.4,774.1" stroke="#333" stroke-width="0.7"/>
<path d="M426.3,771.5 L422.0,776.6 M429.0,773.3 L424.8,778.0 M431.6,775.1 L427.7,779.4 M434.3,777.0 L430.6,780.8 M436.9,778.9 L433.5,782.1 M439.4,780.8 L436.5,783.4 M442.0,782.8 L439.5,784.7 M444.5,784.8 L442.5,785.9 M447.0,786.8 L445.5,787.1 " stroke="#4a4a4a" stroke-width="0.85"/>
<path d="M257.6,667.8 L265.5,671.8 L269.9,677.0 L268.5,679.1 L259.7,686.7 L251.3,682.9 L248.4,675.3Z" fill="#c3c3c3" stroke="#2a2a2a" stroke-width="1.1" stroke-linejoin="round"/>
<path d="M248.4,675.3 L257.2,680.0 L266.0,672.0 M257.2,680.0 L259.7,686.7" fill="none" stroke="#2a2a2a" stroke-width="0.9"/>
<path d="M252.2,675.0 L257.7,670.7 L262.2,673.0 L257.0,677.4Z" fill="none" stroke="#555" stroke-width="0.7"/>
<path d="M244.9,692.2 L402.6,784.7 Q417.4,794.4 427.6,802.5 Q428.9,804.3 426.7,804.0 Q414.6,799.1 398.9,791.0 L241.2,698.5 Z" fill="#c3c3c3" stroke="#262626" stroke-width="1.05" stroke-linejoin="round"/>
<path d="M241.2,698.5 L398.9,791.0 Q414.6,799.1 426.7,804.0" fill="none" stroke="#111" stroke-width="1.5" stroke-linecap="round"/>
<path d="M242.1,697.0 L399.8,789.5" stroke="#333" stroke-width="0.7"/>
<path d="M405.7,786.9 L401.4,792.0 M408.4,788.7 L404.2,793.4 M411.0,790.5 L407.1,794.8 M413.7,792.4 L410.0,796.2 M416.3,794.3 L412.9,797.5 M418.8,796.2 L415.9,798.8 M421.4,798.2 L418.9,800.1 M423.9,800.2 L421.9,801.3 M426.4,802.2 L424.9,802.5 " stroke="#4a4a4a" stroke-width="0.85"/>
<path d="M237.0,683.2 L244.9,687.2 L249.3,692.4 L247.9,694.5 L239.1,702.1 L230.7,698.3 L227.8,690.7Z" fill="#c3c3c3" stroke="#2a2a2a" stroke-width="1.1" stroke-linejoin="round"/>
<path d="M227.8,690.7 L236.6,695.4 L245.4,687.4 M236.6,695.4 L239.1,702.1" fill="none" stroke="#2a2a2a" stroke-width="0.9"/>
<path d="M231.6,690.4 L237.1,686.1 L241.6,688.4 L236.4,692.8Z" fill="none" stroke="#555" stroke-width="0.7"/>
<path d="M224.2,703.2 L381.9,795.7 Q396.7,805.4 406.9,813.5 Q408.2,815.3 406.0,815.0 Q393.9,810.1 378.2,802.0 L220.5,709.5 Z" fill="#c3c3c3" stroke="#262626" stroke-width="1.05" stroke-linejoin="round"/>
<path d="M220.5,709.5 L378.2,802.0 Q393.9,810.1 406.0,815.0" fill="none" stroke="#111" stroke-width="1.5" stroke-linecap="round"/>
<path d="M221.4,708.0 L379.1,800.5" stroke="#333" stroke-width="0.7"/>
<path d="M385.0,797.9 L380.7,803.0 M387.7,799.7 L383.5,804.4 M390.3,801.5 L386.4,805.8 M393.0,803.4 L389.3,807.2 M395.6,805.3 L392.2,808.5 M398.1,807.2 L395.2,809.8 M400.7,809.2 L398.2,811.1 M403.2,811.2 L401.2,812.3 M405.7,813.2 L404.2,813.5 " stroke="#4a4a4a" stroke-width="0.85"/>
<path d="M216.3,694.2 L224.2,698.2 L228.6,703.4 L227.2,705.5 L218.4,713.1 L210.0,709.3 L207.1,701.7Z" fill="#c3c3c3" stroke="#2a2a2a" stroke-width="1.1" stroke-linejoin="round"/>
<path d="M207.1,701.7 L215.9,706.4 L224.7,698.4 M215.9,706.4 L218.4,713.1" fill="none" stroke="#2a2a2a" stroke-width="0.9"/>
<path d="M210.9,701.4 L216.4,697.1 L220.9,699.4 L215.7,703.8Z" fill="none" stroke="#555" stroke-width="0.7"/>
<path d="M536.3,769.9 L694.0,861.5 Q708.7,871.1 719.0,879.2 Q720.3,881.0 718.1,880.7 Q706.0,875.8 690.3,867.8 L532.7,776.2 Z" fill="#c3c3c3" stroke="#262626" stroke-width="1.05" stroke-linejoin="round"/>
<path d="M532.7,776.2 L690.3,867.8 Q706.0,875.8 718.1,880.7" fill="none" stroke="#111" stroke-width="1.5" stroke-linecap="round"/>
<path d="M533.5,774.7 L691.2,866.3" stroke="#333" stroke-width="0.7"/>
<path d="M697.1,863.7 L692.7,868.8 M699.7,865.5 L695.6,870.2 M702.4,867.3 L698.5,871.6 M705.0,869.1 L701.4,873.0 M707.6,871.0 L704.3,874.3 M710.2,872.9 L707.3,875.6 M712.8,874.9 L710.2,876.8 M715.3,876.9 L713.2,878.1 M717.8,878.9 L716.3,879.2 " stroke="#4a4a4a" stroke-width="0.85"/>
<path d="M528.4,760.9 L536.3,764.9 L540.7,770.1 L539.3,772.2 L530.5,779.8 L522.1,776.0 L519.2,768.4Z" fill="#c3c3c3" stroke="#2a2a2a" stroke-width="1.1" stroke-linejoin="round"/>
<path d="M519.2,768.4 L528.0,773.1 L536.8,765.1 M528.0,773.1 L530.5,779.8" fill="none" stroke="#2a2a2a" stroke-width="0.9"/>
<path d="M523.0,768.1 L528.5,763.8 L533.0,766.1 L527.8,770.5Z" fill="none" stroke="#555" stroke-width="0.7"/>
<path d="M512.5,785.9 L670.2,877.5 Q684.9,887.1 695.2,895.2 Q696.5,897.0 694.3,896.7 Q682.2,891.8 666.5,883.8 L508.9,792.2 Z" fill="#c3c3c3" stroke="#262626" stroke-width="1.05" stroke-linejoin="round"/>
<path d="M508.9,792.2 L666.5,883.8 Q682.2,891.8 694.3,896.7" fill="none" stroke="#111" stroke-width="1.5" stroke-linecap="round"/>
<path d="M509.7,790.7 L667.4,882.3" stroke="#333" stroke-width="0.7"/>
<path d="M673.3,879.7 L668.9,884.8 M675.9,881.5 L671.8,886.2 M678.6,883.3 L674.7,887.6 M681.2,885.1 L677.6,889.0 M683.8,887.0 L680.5,890.3 M686.4,888.9 L683.5,891.6 M689.0,890.9 L686.4,892.8 M691.5,892.9 L689.4,894.1 M694.0,894.9 L692.5,895.2 " stroke="#4a4a4a" stroke-width="0.85"/>
<path d="M504.6,776.9 L512.5,780.9 L516.9,786.1 L515.5,788.2 L506.7,795.8 L498.3,792.0 L495.4,784.4Z" fill="#c3c3c3" stroke="#2a2a2a" stroke-width="1.1" stroke-linejoin="round"/>
<path d="M495.4,784.4 L504.2,789.1 L513.0,781.1 M504.2,789.1 L506.7,795.8" fill="none" stroke="#2a2a2a" stroke-width="0.9"/>
<path d="M499.2,784.1 L504.7,779.8 L509.2,782.1 L504.0,786.5Z" fill="none" stroke="#555" stroke-width="0.7"/>
<path d="M488.7,798.8 L646.4,890.4 Q661.1,900.0 671.4,908.1 Q672.7,909.9 670.5,909.6 Q658.4,904.7 642.7,896.7 L485.1,805.1 Z" fill="#c3c3c3" stroke="#262626" stroke-width="1.05" stroke-linejoin="round"/>
<path d="M485.1,805.1 L642.7,896.7 Q658.4,904.7 670.5,909.6" fill="none" stroke="#111" stroke-width="1.5" stroke-linecap="round"/>
<path d="M485.9,803.6 L643.6,895.2" stroke="#333" stroke-width="0.7"/>
<path d="M649.5,892.6 L645.1,897.7 M652.1,894.4 L648.0,899.1 M654.8,896.2 L650.9,900.5 M657.4,898.0 L653.8,901.9 M660.0,899.9 L656.7,903.2 M662.6,901.8 L659.7,904.5 M665.2,903.8 L662.6,905.7 M667.7,905.8 L665.6,907.0 M670.2,907.8 L668.7,908.1 " stroke="#4a4a4a" stroke-width="0.85"/>
<path d="M480.8,789.8 L488.7,793.8 L493.1,799.0 L491.7,801.1 L482.9,808.7 L474.5,804.9 L471.6,797.3Z" fill="#c3c3c3" stroke="#2a2a2a" stroke-width="1.1" stroke-linejoin="round"/>
<path d="M471.6,797.3 L480.4,802.0 L489.2,794.0 M480.4,802.0 L482.9,808.7" fill="none" stroke="#2a2a2a" stroke-width="0.9"/>
<path d="M475.4,797.0 L480.9,792.7 L485.4,795.0 L480.2,799.4Z" fill="none" stroke="#555" stroke-width="0.7"/>
<path d="M468.3,814.1 L626.0,905.7 Q640.7,915.3 651.0,923.4 Q652.3,925.2 650.1,924.9 Q638.0,920.0 622.3,912.0 L464.7,820.4 Z" fill="#c3c3c3" stroke="#262626" stroke-width="1.05" stroke-linejoin="round"/>
<path d="M464.7,820.4 L622.3,912.0 Q638.0,920.0 650.1,924.9" fill="none" stroke="#111" stroke-width="1.5" stroke-linecap="round"/>
<path d="M465.5,818.9 L623.2,910.5" stroke="#333" stroke-width="0.7"/>
<path d="M629.1,907.9 L624.7,913.0 M631.7,909.7 L627.6,914.4 M634.4,911.5 L630.5,915.8 M637.0,913.3 L633.4,917.2 M639.6,915.2 L636.3,918.5 M642.2,917.1 L639.3,919.8 M644.8,919.1 L642.2,921.0 M647.3,921.1 L645.2,922.3 M649.8,923.1 L648.3,923.4 " stroke="#4a4a4a" stroke-width="0.85"/>
<path d="M460.4,805.1 L468.3,809.1 L472.7,814.3 L471.3,816.4 L462.5,824.0 L454.1,820.2 L451.2,812.6Z" fill="#c3c3c3" stroke="#2a2a2a" stroke-width="1.1" stroke-linejoin="round"/>
<path d="M451.2,812.6 L460.0,817.3 L468.8,809.3 M460.0,817.3 L462.5,824.0" fill="none" stroke="#2a2a2a" stroke-width="0.9"/>
<path d="M455.0,812.3 L460.5,808.0 L465.0,810.3 L459.8,814.7Z" fill="none" stroke="#555" stroke-width="0.7"/>
<path d="M447.9,825.7 L605.6,917.3 Q620.3,926.9 630.6,935.0 Q631.9,936.8 629.7,936.5 Q617.6,931.6 601.9,923.6 L444.3,832.0 Z" fill="#c3c3c3" stroke="#262626" stroke-width="1.05" stroke-linejoin="round"/>
<path d="M444.3,832.0 L601.9,923.6 Q617.6,931.6 629.7,936.5" fill="none" stroke="#111" stroke-width="1.5" stroke-linecap="round"/>
<path d="M445.1,830.5 L602.8,922.1" stroke="#333" stroke-width="0.7"/>
<path d="M608.7,919.5 L604.3,924.6 M611.3,921.3 L607.2,926.0 M614.0,923.1 L610.1,927.4 M616.6,924.9 L613.0,928.8 M619.2,926.8 L615.9,930.1 M621.8,928.7 L618.9,931.4 M624.4,930.7 L621.8,932.6 M626.9,932.7 L624.8,933.9 M629.4,934.7 L627.9,935.0 " stroke="#4a4a4a" stroke-width="0.85"/>
<path d="M440.0,816.7 L447.9,820.7 L452.3,825.9 L450.9,828.0 L442.1,835.6 L433.7,831.8 L430.8,824.2Z" fill="#c3c3c3" stroke="#2a2a2a" stroke-width="1.1" stroke-linejoin="round"/>
<path d="M430.8,824.2 L439.6,828.9 L448.4,820.9 M439.6,828.9 L442.1,835.6" fill="none" stroke="#2a2a2a" stroke-width="0.9"/>
<path d="M434.6,823.9 L440.1,819.6 L444.6,821.9 L439.4,826.3Z" fill="none" stroke="#555" stroke-width="0.7"/>
<defs><linearGradient id="gTop" x1="0" y1="0" x2="1" y2="1"><stop offset="0" stop-color="#b8b8b8"/><stop offset="1" stop-color="#3c3c3c"/></linearGradient><linearGradient id="gRec" x1="0" y1="0" x2="1" y2="1"><stop offset="0" stop-color="#777"/><stop offset="1" stop-color="#c8c8c8"/></linearGradient><pattern id="thr" width="2.2" height="10" patternUnits="userSpaceOnUse" patternTransform="rotate(29)"><rect width="2.2" height="10" fill="#e8e8e8"/><rect width="0.7" height="10" fill="#555"/></pattern></defs>
<path d="M547,183 C546,175 545,168 544,158" fill="none" stroke="#111" stroke-width="0.9" stroke-linecap="round"/>
<path d="M547,183 C548,175 550,168 552,156" fill="none" stroke="#111" stroke-width="0.9" stroke-linecap="round"/>
<path d="M547,183 C552,176 558,168 563,155" fill="none" stroke="#111" stroke-width="0.9" stroke-linecap="round"/>
<path d="M547,183 C560,172 580,160 586,140 C588,134 589,130 590,126" fill="none" stroke="#111" stroke-width="0.9" stroke-linecap="round"/>
<path d="M525.5,40.9 L593.1,72.7 L595.1,76.6 L597.7,114.3 L588.0,133.8 L576.9,148.1 L576.2,152.0 L569.7,157.2 L565.8,152.0 L556.0,152.0 L547.6,157.2 L543.7,158.5 L522.9,142.9 L520.3,137.7 L522.9,133.8 L490.4,100.0 L489.8,96.1 L483.9,88.3 L485.2,85.7Z" fill="#a6a6a8" stroke="#1e1e1e" stroke-width="1.5" stroke-linejoin="round"/>
<linearGradient id="gTop2" x1="0" y1="0.3" x2="1" y2="0.6"><stop offset="0" stop-color="#b4b4b4"/><stop offset="0.55" stop-color="#7a7a7a"/><stop offset="1" stop-color="#3a3a3a"/></linearGradient>
<path d="M526.2,45.4 L590.5,75.3 L556.7,123.4 L542.4,116.3 L532.0,127.3 L492.4,98.7 L500.8,88.3 L494.3,83.0Z" fill="url(#gTop2)" stroke="#222" stroke-width="0.9" stroke-linejoin="round"/>
<path d="M526.2,45.4 L535.5,66 M501,88 L517.5,113 M485.2,85.7 L497.5,85 L501,88 M490.4,100 L532,127.3 L536,138 L555,150 M556.7,123.4 L574,134 L590.5,75.3 M556.7,123.4 L563.5,152 M575.5,110 L588,100 L592,120 L580,130 Z M590,106 L597,104 M583,130 L577,146 M523,134 L545,145 L547,157" fill="none" stroke="#2a2a2a" stroke-width="0.75"/>
<path d="M679,202 C700,196 720,190 741,186" fill="none" stroke="#1a1a1a" stroke-width="1.1" stroke-linecap="round"/>
<path d="M679,203.5 C700,200 720,195 742,192" fill="none" stroke="#1a1a1a" stroke-width="1.1" stroke-linecap="round"/>
<path d="M759.5,180 C766,176 772,170 778,167.5 C785,164.5 791,167 791.5,173.5 C792,180 788,185.5 782,187 C775,188.5 768,187.5 761.5,187.5 Z" fill="#fdfdfd" stroke="#222" stroke-width="1" stroke-linejoin="round"/>
<ellipse cx="781" cy="177" rx="4.2" ry="5.6" transform="rotate(40 781 177)" fill="#fff" stroke="#222" stroke-width="0.9"/>
<path d="M741,185 C741,183 743,182 746,181.5 L757,178.5 C759.5,178 760.5,180 760.5,182 L760,186 C760,188 758.5,188.5 757,189 L745,193.5 C742.5,194 741.5,192.5 741.5,191 Z" fill="#fafafa" stroke="#222" stroke-width="1" stroke-linejoin="round"/>
<path d="M747,182 L748,189 M757.5,179 L758.5,188.5" fill="none" stroke="#333" stroke-width="0.8"/>
<path d="M819.8,265 C832,270.0 856.0,267.5 881.0,251.5" fill="none" stroke="#1a1a1a" stroke-width="0.9" stroke-linecap="round"/>
<path d="M819.8,265 C832,270.9 859.7,269.8 886.7,252.3" fill="none" stroke="#1a1a1a" stroke-width="0.9" stroke-linecap="round"/>
<path d="M819.8,265 C832,271.8 863.4,272.1 892.4,253.1" fill="none" stroke="#1a1a1a" stroke-width="0.9" stroke-linecap="round"/>
<path d="M819.8,265 C832,272.7 867.1,274.4 898.1,253.9" fill="none" stroke="#1a1a1a" stroke-width="0.9" stroke-linecap="round"/>
<path d="M819.8,265 C832,273.6 870.8,276.7 903.8,254.7" fill="none" stroke="#1a1a1a" stroke-width="0.9" stroke-linecap="round"/>
<path d="M819.8,265 C832,274.5 874.5,279.0 909.5,255.5" fill="none" stroke="#1a1a1a" stroke-width="0.9" stroke-linecap="round"/>
<path d="M819.8,265 C832,275.4 878.2,281.3 915.2,256.3" fill="none" stroke="#1a1a1a" stroke-width="0.9" stroke-linecap="round"/>
<path d="M885.0,204.8 L948.1,210.6 L950.0,213.0 L951.5,236.0 L953.0,238.0 L945.5,247.0 L944.5,244.0 L933.8,256.1 L865.2,249.2 L862.8,242.0 L879.6,223.4Z" fill="#bdbdbf" stroke="#2a2a2a" stroke-width="1.1" stroke-linejoin="round"/>
<path d="M885.0,204.8 L948.1,210.6 L949.4,234.7 L886.8,226.5Z" fill="#c6c6c8" stroke="#444" stroke-width="0.8"/>
<path d="M886.8,226.5 L949.4,234.7 L933.8,256.1 L865.2,249.2 L862.8,242.0Z" fill="#b9b9bb" stroke="#444" stroke-width="0.8"/>
<path d="M845.4,235.4 L865.8,220.4 L877.2,212.6 L879.6,223.4 L854.4,249.2 L846.6,248.0Z" fill="#c4c4c6" stroke="#2a2a2a" stroke-width="1" stroke-linejoin="round"/>
<path d="M848,238 L875,217.5 L876.5,223 L852,244 M849,241.5 L876,220.5 M868,233.6 C870,232 872,232.5 873,233.6 M945.5,247 L951.5,236" fill="none" stroke="#555" stroke-width="0.6"/>
<path d="M889.5,208.5 h5 v3.5 l-2.5,2 l-2.5,-2 z" fill="#d0d0d0" stroke="#444" stroke-width="0.6"/>
<rect x="889.0" y="218.0" width="6" height="5" rx="1.5" fill="#8c8c8c" stroke="#444" stroke-width="0.6"/>
<rect x="879.1" y="235.6" width="5.4" height="3.4" fill="#fafafa" stroke="#444" stroke-width="0.5" transform="rotate(10 881.8 237.3)"/>
<path d="M898.0,209.3 h5 v3.5 l-2.5,2 l-2.5,-2 z" fill="#d0d0d0" stroke="#444" stroke-width="0.6"/>
<rect x="897.5" y="218.8" width="6" height="5" rx="1.5" fill="#8c8c8c" stroke="#444" stroke-width="0.6"/>
<rect x="887.9" y="237.2" width="5.4" height="3.4" fill="#fafafa" stroke="#444" stroke-width="0.5" transform="rotate(10 890.6 238.9)"/>
<path d="M906.5,210.2 h5 v3.5 l-2.5,2 l-2.5,-2 z" fill="#d0d0d0" stroke="#444" stroke-width="0.6"/>
<rect x="906.0" y="219.7" width="6" height="5" rx="1.5" fill="#8c8c8c" stroke="#444" stroke-width="0.6"/>
<rect x="896.7" y="238.8" width="5.4" height="3.4" fill="#fafafa" stroke="#444" stroke-width="0.5" transform="rotate(10 899.4 240.5)"/>
<path d="M915.0,211.1 h5 v3.5 l-2.5,2 l-2.5,-2 z" fill="#d0d0d0" stroke="#444" stroke-width="0.6"/>
<rect x="914.5" y="220.6" width="6" height="5" rx="1.5" fill="#8c8c8c" stroke="#444" stroke-width="0.6"/>
<rect x="905.5" y="240.4" width="5.4" height="3.4" fill="#fafafa" stroke="#444" stroke-width="0.5" transform="rotate(10 908.2 242.1)"/>
<path d="M923.5,211.9 h5 v3.5 l-2.5,2 l-2.5,-2 z" fill="#d0d0d0" stroke="#444" stroke-width="0.6"/>
<rect x="923.0" y="221.4" width="6" height="5" rx="1.5" fill="#8c8c8c" stroke="#444" stroke-width="0.6"/>
<rect x="914.3" y="242.0" width="5.4" height="3.4" fill="#fafafa" stroke="#444" stroke-width="0.5" transform="rotate(10 917.0 243.7)"/>
<path d="M932.0,212.8 h5 v3.5 l-2.5,2 l-2.5,-2 z" fill="#d0d0d0" stroke="#444" stroke-width="0.6"/>
<rect x="931.5" y="222.2" width="6" height="5" rx="1.5" fill="#8c8c8c" stroke="#444" stroke-width="0.6"/>
<rect x="923.1" y="243.6" width="5.4" height="3.4" fill="#fafafa" stroke="#444" stroke-width="0.5" transform="rotate(10 925.8 245.3)"/>
<path d="M940.5,213.6 h5 v3.5 l-2.5,2 l-2.5,-2 z" fill="#d0d0d0" stroke="#444" stroke-width="0.6"/>
<rect x="940.0" y="223.1" width="6" height="5" rx="1.5" fill="#8c8c8c" stroke="#444" stroke-width="0.6"/>
<rect x="931.9" y="245.2" width="5.4" height="3.4" fill="#fafafa" stroke="#444" stroke-width="0.5" transform="rotate(10 934.6 246.9)"/>
<path d="M548,370 L559,397" fill="none" stroke="#1a1a1a" stroke-width="1.1" stroke-linecap="round"/>
<path d="M548,370 L571,396" fill="none" stroke="#1a1a1a" stroke-width="1.1" stroke-linecap="round"/>
<path d="M548,370 L583,397" fill="none" stroke="#1a1a1a" stroke-width="1.1" stroke-linecap="round"/>
<path d="M549.6,412.0 L560.8,396.8 L594.4,398.4 L608.8,427.2 L576.8,427.2 L561.6,436.0Z" fill="#a2a2a4" stroke="#111" stroke-width="1.4" stroke-linejoin="round"/>
<path d="M564,397.6 L576.8,427.2" fill="none" stroke="#222" stroke-width="0.8"/>
<ellipse cx="582.4" cy="406.4" rx="7" ry="5.8" transform="rotate(15 582.4 406.4)" fill="none" stroke="#222" stroke-width="0.8"/>
<rect x="576.5" y="418.3" width="5.6" height="5" fill="#c8c8c8" stroke="#222" stroke-width="0.7"/>
<rect x="578.0" y="419.6" width="2.6" height="2.4" fill="#777"/>
<rect x="583.1" y="418.9" width="5.6" height="5" fill="#c8c8c8" stroke="#222" stroke-width="0.7"/>
<rect x="584.6" y="420.2" width="2.6" height="2.4" fill="#777"/>
<rect x="589.7" y="419.5" width="5.6" height="5" fill="#c8c8c8" stroke="#222" stroke-width="0.7"/>
<rect x="591.2" y="420.8" width="2.6" height="2.4" fill="#777"/>
<rect x="596.3" y="420.1" width="5.6" height="5" fill="#c8c8c8" stroke="#222" stroke-width="0.7"/>
<rect x="597.8" y="421.4" width="2.6" height="2.4" fill="#777"/>
<path d="M556.8,442.4 L561.6,436.0 L576.8,427.2 L614.4,428.0 L625.6,452.8 L610.4,476.0 L601.6,472.8 L599.2,470.4 L580.0,468.0 L578.4,472.8 L568.8,472.8Z" fill="#a2a2a4" stroke="#111" stroke-width="1.4" stroke-linejoin="round"/>
<linearGradient id="gRec2" x1="0" y1="0" x2="1" y2="0.3"><stop offset="0" stop-color="#5e5e5e"/><stop offset="1" stop-color="#c4c4c4"/></linearGradient>
<path d="M575.2,455.2 L621.6,453.9 L608.8,473.6 L601.6,472.8 L599.2,470.4 L580.0,468.0Z" fill="url(#gRec2)" stroke="#222" stroke-width="0.8"/>
<path d="M576.8,427.2 L584,450.4 L625.6,452.8 M584,450.4 L575.2,455.2 M561.6,436 L568,452 L575.2,455.2 M595,453 L603,472 M570,458 L574,470" fill="none" stroke="#222" stroke-width="0.8"/>
<path d="M52,470 L52,506.4 L95.2,522.4 L158.4,512.8 L158.4,507 L161.5,505 L164,506.5 L164,509.5 L180.8,502.4 L181.6,464.8 L177.6,457.6 C172,445 166,435 158.4,427.2 C150,421 135,417.5 112,417.3 C95,417.5 80,420 68.8,424 C62,428 59,432 58.5,440 C57,452 54,460 52,470 Z" fill="#a2a2a4" stroke="#2b2b2b" stroke-width="1.1" stroke-linejoin="round"/>
<ellipse cx="112" cy="424.8" rx="22" ry="6.4" fill="none" stroke="#2b2b2b" stroke-width="0.9"/>
<path d="M72.8,431.2 C85,437 100,440.8 115.2,440.8 C132,440.5 148,434 157.6,427.2" fill="none" stroke="#2b2b2b" stroke-width="0.9"/>
<path d="M59.2,435.2 C63,430 67,427 72,425.6 C71,432 71,438 71.2,444.8 C66,455 60,464 54.4,472" fill="none" stroke="#2b2b2b" stroke-width="0.8"/>
<path d="M68.8,455.2 C85,459 105,461.6 123.2,461.6 L134.4,484 M134.4,484 C137,472 145,460 160,456 C167,458 172,463 174.4,470.4 M136,483.2 C140,470 146,461 152,458.4 C162,456 170,463 176.8,471.2 M172,447 L179,466" fill="none" stroke="#2b2b2b" stroke-width="0.85"/>
<path d="M52,475.2 C60,472 70,470 78.4,470.4 C86,473 91,478 95.2,489.6 L136,484 L180.8,472 M95.2,489.6 L95.2,522.4" fill="none" stroke="#2b2b2b" stroke-width="0.9"/>
<path d="M60,480 L60,505 M64,478 L64,507 M60,480 C68,476 76,477 85,484" fill="none" stroke="#7a7a7a" stroke-width="0.5"/>
<path d="M179,422.5 L179,428.5 C182,433 185,437 189.5,439 L224,454 L224,457 L245,458.5 L278,455.5 C288,452.5 295,450 299,446.5 C304,441 307,437 308.7,433 L308.7,425.5 C307,422 305.5,420 303.5,418 L275,405.2 L216.5,402.2 C205,404 196,407 189.5,410.5 C185,413 181,417 179,422.5 Z" fill="#a2a2a4" stroke="#2b2b2b" stroke-width="1.1" stroke-linejoin="round"/>
<path d="M179,422.5 C185,432 200,440 224,448.5 C245,452 265,450 278,448.5 C292,445 302,438 308.7,427 M224,448.5 L224,457 M278,448.5 L278,455.5 M294,440 L294,450 M270,442 L285,440" fill="none" stroke="#2b2b2b" stroke-width="0.8"/>
<path d="M214.2,409 L214.2,423 C214.2,429 230,433.7 245.5,433.7 C261,433.7 276.8,429 276.8,423 L276.8,409 Z" fill="#a2a2a4" stroke="#2b2b2b" stroke-width="0.9"/>
<ellipse cx="245.5" cy="409" rx="31.3" ry="10.5" fill="#a2a2a4" stroke="#2b2b2b" stroke-width="0.9"/>
<path d="M226.7,392 L226.7,404 C226.7,407 235,409.5 244,409.5 C253,409.5 261.2,407 261.2,404 L261.2,392 Z" fill="#a2a2a4" stroke="#2b2b2b" stroke-width="0.9"/>
<path d="M226,388 L226,393 C226,396 235,398 244,398 C253,398 262,396 262,393 L262,388 Z" fill="#a2a2a4" stroke="#2b2b2b" stroke-width="0.9"/>
<ellipse cx="244" cy="388" rx="18" ry="4" fill="#a2a2a4" stroke="#2b2b2b" stroke-width="0.9"/>
<path d="M231.2,369 L231.2,384 C231.2,386 237,387.5 244,387.5 C251,387.5 256.7,386 256.7,384 L256.7,369 Z" fill="#a2a2a4" stroke="#2b2b2b" stroke-width="0.9"/>
<ellipse cx="244" cy="369" rx="12.7" ry="3" fill="#a2a2a4" stroke="#2b2b2b" stroke-width="0.9"/>
<ellipse cx="244" cy="369" rx="6" ry="1.5" fill="none" stroke="#2b2b2b" stroke-width="0.6"/>
<ellipse cx="197.5" cy="427.5" rx="3" ry="1.5" fill="none" stroke="#2b2b2b" stroke-width="0.7"/>
<ellipse cx="296" cy="421" rx="3" ry="1.5" fill="none" stroke="#2b2b2b" stroke-width="0.7"/>
<ellipse cx="281.5" cy="436" rx="3" ry="1.5" fill="none" stroke="#2b2b2b" stroke-width="0.7"/>
<path d="M705.8,639.7 L759.0,603.5 Q765.6,599.0 773.2,601.4 L852.6,626.9 Q858.3,628.7 858.2,634.7 L857.5,687.6 Q857.4,692.6 853.1,695.2 L805.8,723.7 Q800.7,726.8 795.0,724.8 L706.4,694.2 Q701.7,692.6 701.6,687.6 L700.9,649.1 Q700.8,643.1 705.8,639.7 Z" fill="#5a5a5c" stroke="#111" stroke-width="2" stroke-linejoin="round"/>
<path d="M706.3,642.2 L760.7,604.4 Q765.6,601.0 771.3,602.8 L852.5,628.8 Q856.3,630.0 853.2,632.6 L803.9,673.6 Q801.6,675.5 798.7,674.6 L706.8,645.7 Q703.0,644.5 706.3,642.2 Z" fill="#5f5f61"/>
<path d="M804.8,675.1 L854.2,632.9 Q856.5,631.0 856.5,634.0 L855.8,687.5 Q855.8,691.5 852.4,693.6 L803.8,723.2 Q801.2,724.8 801.3,721.8 L802.4,680.0 Q802.5,677.0 804.8,675.1 Z" fill="#535355"/>
<path d="M704,648 L797,679 Q801,680.5 804,678 L855,634 M801.5,681 L801,722 M705,651 L705.5,688 M702.5,645 L797,676.5 Q801,678 804.5,675 L856.5,631 M798.5,680 L798,724" fill="none" stroke="#a5a5a5" stroke-width="0.6"/>
<path d="M712,697 L795,725.5" fill="none" stroke="#8a8a8a" stroke-width="0.5"/>
<path d="M718.1,670.3 L786.6,688.3 L786.6,709.0 L719.0,692.8Z" fill="#4e4e50" stroke="#b8b8b8" stroke-width="0.9"/>
<path d="M722,673 L784,690 L784,706 M719,671 L724,667 L730,669 L728,676" fill="none" stroke="#c0c0c0" stroke-width="0.6"/>
<rect x="721.1" y="676.6" width="6.6" height="4.6" rx="1.2" fill="#f2f2f2" stroke="#333" stroke-width="0.4"/>
<circle cx="724.4" cy="678.9" r="1" fill="#333"/>
<rect x="722.9" y="683.3" width="6.6" height="4.6" rx="1.2" fill="#f2f2f2" stroke="#333" stroke-width="0.4"/>
<circle cx="726.2" cy="685.6" r="1" fill="#333"/>
<rect x="729.2" y="679.5" width="6.6" height="4.6" rx="1.2" fill="#f2f2f2" stroke="#333" stroke-width="0.4"/>
<circle cx="732.5" cy="681.8" r="1" fill="#333"/>
<rect x="731.0" y="686.2" width="6.6" height="4.6" rx="1.2" fill="#f2f2f2" stroke="#333" stroke-width="0.4"/>
<circle cx="734.3" cy="688.5" r="1" fill="#333"/>
<rect x="737.3" y="682.4" width="6.6" height="4.6" rx="1.2" fill="#f2f2f2" stroke="#333" stroke-width="0.4"/>
<circle cx="740.6" cy="684.7" r="1" fill="#333"/>
<rect x="739.1" y="689.1" width="6.6" height="4.6" rx="1.2" fill="#f2f2f2" stroke="#333" stroke-width="0.4"/>
<circle cx="742.4" cy="691.4" r="1" fill="#333"/>
<rect x="745.4" y="685.3" width="6.6" height="4.6" rx="1.2" fill="#f2f2f2" stroke="#333" stroke-width="0.4"/>
<circle cx="748.7" cy="687.6" r="1" fill="#333"/>
<rect x="747.2" y="692.0" width="6.6" height="4.6" rx="1.2" fill="#f2f2f2" stroke="#333" stroke-width="0.4"/>
<circle cx="750.5" cy="694.3" r="1" fill="#333"/>
<rect x="753.5" y="688.2" width="6.6" height="4.6" rx="1.2" fill="#f2f2f2" stroke="#333" stroke-width="0.4"/>
<circle cx="756.8" cy="690.5" r="1" fill="#333"/>
<rect x="755.3" y="694.9" width="6.6" height="4.6" rx="1.2" fill="#f2f2f2" stroke="#333" stroke-width="0.4"/>
<circle cx="758.6" cy="697.2" r="1" fill="#333"/>
<rect x="761.6" y="691.1" width="6.6" height="4.6" rx="1.2" fill="#f2f2f2" stroke="#333" stroke-width="0.4"/>
<circle cx="764.9" cy="693.4" r="1" fill="#333"/>
<rect x="763.4" y="697.8" width="6.6" height="4.6" rx="1.2" fill="#f2f2f2" stroke="#333" stroke-width="0.4"/>
<circle cx="766.7" cy="700.1" r="1" fill="#333"/>
<rect x="769.7" y="694.0" width="6.6" height="4.6" rx="1.2" fill="#f2f2f2" stroke="#333" stroke-width="0.4"/>
<circle cx="773.0" cy="696.3" r="1" fill="#333"/>
<rect x="771.5" y="700.7" width="6.6" height="4.6" rx="1.2" fill="#f2f2f2" stroke="#333" stroke-width="0.4"/>
<circle cx="774.8" cy="703.0" r="1" fill="#333"/>
<path d="M583,747 L583.9,760.3 L586.1,762.5 L597,756.5 L597.4,741 Z" fill="#f4f4f4" stroke="#151515" stroke-width="1.2" stroke-linejoin="round"/>
<path d="M604.5,738 L605.3,749 L607.5,750.9 L616.5,746 L617.6,730 Z" fill="#f4f4f4" stroke="#151515" stroke-width="1.2" stroke-linejoin="round"/>
<path d="M577.5,725.8 L582.4,747.5 L617.6,731.8 L621.4,713 L587.3,730.3 Z" fill="#efefef" stroke="#151515" stroke-width="1.2" stroke-linejoin="round"/>
<path d="M598.5,725.5 L598.1,741.5 M609.4,720 L609,736.8 M580,728 L583.5,746" fill="none" stroke="#151515" stroke-width="0.8"/>
<path d="M578,727 L582,746 L586,744 L582,729 Z" fill="#bdbdbd" stroke="none"/>
<path d="M576.4,720.9 L610.9,701 L623.6,706.6 L623.6,711.9 L587.3,730.3 L577.1,725 Z" fill="#f6f6f6" stroke="#151515" stroke-width="1.3" stroke-linejoin="round"/>
<path d="M576.4,720.9 L587.6,726.5 L623.6,706.6 M587.6,726.5 L587.3,730.3" fill="none" stroke="#151515" stroke-width="0.9"/>
<filter id="gs" x="-10%" y="-50%" width="120%" height="200%"><feColorMatrix type="saturate" values="0"/></filter>
<g filter="url(#gs)"><text transform="translate(585.5,724.5) rotate(-27)" font-family="Liberation Sans" font-size="7" fill="#111">20 Amp.</text></g>
<ellipse cx="610.9" cy="778.4" rx="13.4" ry="19" transform="rotate(12 610.9 778.4)" fill="#fff" stroke="#222" stroke-width="1.2"/>
<ellipse cx="610.1" cy="778.4" rx="12.2" ry="18" transform="rotate(12 610.9 778.4)" fill="none" stroke="#888" stroke-width="0.5"/>
<path d="M620.5,780.3 L616.5,781.3 L619.0,784.7 L615.2,784.4 L616.6,788.4 L613.4,786.8 L613.6,790.9 L611.4,788.2 L610.3,791.8 L609.4,788.4 L607.2,791.2 L607.6,787.4 L604.6,789.0 L606.4,785.3 L602.8,785.5 L605.7,782.4 L602.1,781.2 L605.7,779.0 L602.5,776.5 L606.5,775.5 L604.0,772.1 L607.8,772.4 L606.4,768.4 L609.6,770.0 L609.4,765.9 L611.6,768.6 L612.7,765.0 L613.6,768.4 L615.8,765.6 L615.4,769.4 L618.4,767.8 L616.6,771.5 L620.2,771.3 L617.3,774.4 L620.9,775.6 L617.3,777.8Z" fill="#fff" stroke="#222" stroke-width="1" stroke-linejoin="miter"/>
<ellipse cx="658.7" cy="751.8" rx="13.4" ry="19" transform="rotate(12 658.7 751.8)" fill="#fff" stroke="#222" stroke-width="1.2"/>
<ellipse cx="657.9000000000001" cy="751.8" rx="12.2" ry="18" transform="rotate(12 658.7 751.8)" fill="none" stroke="#888" stroke-width="0.5"/>
<path d="M668.3,753.7 L664.3,754.7 L666.8,758.1 L663.0,757.8 L664.4,761.8 L661.2,760.2 L661.4,764.3 L659.2,761.6 L658.1,765.2 L657.2,761.8 L655.0,764.6 L655.4,760.8 L652.4,762.4 L654.2,758.7 L650.6,758.9 L653.5,755.8 L649.9,754.6 L653.5,752.4 L650.3,749.9 L654.3,748.9 L651.8,745.5 L655.6,745.8 L654.2,741.8 L657.4,743.4 L657.2,739.3 L659.4,742.0 L660.5,738.4 L661.4,741.8 L663.6,739.0 L663.2,742.8 L666.2,741.2 L664.4,744.9 L668.0,744.7 L665.1,747.8 L668.7,749.0 L665.1,751.2Z" fill="#fff" stroke="#222" stroke-width="1" stroke-linejoin="miter"/>
<ellipse cx="700.2" cy="728" rx="13.4" ry="19" transform="rotate(12 700.2 728)" fill="#fff" stroke="#222" stroke-width="1.2"/>
<ellipse cx="699.4000000000001" cy="728" rx="12.2" ry="18" transform="rotate(12 700.2 728)" fill="none" stroke="#888" stroke-width="0.5"/>
<path d="M709.8,729.9 L705.8,730.9 L708.3,734.3 L704.5,734.0 L705.9,738.0 L702.7,736.4 L702.9,740.5 L700.7,737.8 L699.6,741.4 L698.7,738.0 L696.5,740.8 L696.9,737.0 L693.9,738.6 L695.7,734.9 L692.1,735.1 L695.0,732.0 L691.4,730.8 L695.0,728.6 L691.8,726.1 L695.8,725.1 L693.3,721.7 L697.1,722.0 L695.7,718.0 L698.9,719.6 L698.7,715.5 L700.9,718.2 L702.0,714.6 L702.9,718.0 L705.1,715.2 L704.7,719.0 L707.7,717.4 L705.9,721.1 L709.5,720.9 L706.6,724.0 L710.2,725.2 L706.6,727.4Z" fill="#fff" stroke="#222" stroke-width="1" stroke-linejoin="miter"/>
<path d="M638.5,792.3 L649.5,790.3 L654.5,793.0 L659.5,802.5 L658.0,811.5 L648.0,818.0 L640.0,818.0 L634.5,815.5 L628.8,805.5 L630.0,801.0Z" fill="#fafafa" stroke="#1a1a1a" stroke-width="1.5" stroke-linejoin="round"/>
<path d="M630,801 L636.5,792.8 L635,808 L629.5,806 M635,808 L640,818" fill="none" stroke="#222" stroke-width="0.9"/>
<ellipse cx="647" cy="805" rx="11.5" ry="12.5" fill="#fff" stroke="#1a1a1a" stroke-width="1.1"/>
<ellipse cx="647.5" cy="805" rx="7.5" ry="8" fill="#5a5a5a" stroke="#1a1a1a" stroke-width="1"/>
<ellipse cx="645.8" cy="804" rx="5.3" ry="6.5" fill="#fff"/>
<path d="M683.0,768.3 L694.0,766.3 L699.0,769.0 L704.0,778.5 L702.5,787.5 L692.5,794.0 L684.5,794.0 L679.0,791.5 L673.3,781.5 L674.5,777.0Z" fill="#fafafa" stroke="#1a1a1a" stroke-width="1.5" stroke-linejoin="round"/>
<path d="M674.5,777 L681.0,768.8 L679.5,784 L674.0,782 M679.5,784 L684.5,794" fill="none" stroke="#222" stroke-width="0.9"/>
<ellipse cx="691.5" cy="781" rx="11.5" ry="12.5" fill="#fff" stroke="#1a1a1a" stroke-width="1.1"/>
<ellipse cx="692.0" cy="781" rx="7.5" ry="8" fill="#5a5a5a" stroke="#1a1a1a" stroke-width="1"/>
<ellipse cx="690.3" cy="780" rx="5.3" ry="6.5" fill="#fff"/>
<path d="M724.0,747.3 L735.0,745.3 L740.0,748.0 L745.0,757.5 L743.5,766.5 L733.5,773.0 L725.5,773.0 L720.0,770.5 L714.3,760.5 L715.5,756.0Z" fill="#fafafa" stroke="#1a1a1a" stroke-width="1.5" stroke-linejoin="round"/>
<path d="M715.5,756 L722.0,747.8 L720.5,763 L715.0,761 M720.5,763 L725.5,773" fill="none" stroke="#222" stroke-width="0.9"/>
<ellipse cx="732.5" cy="760" rx="11.5" ry="12.5" fill="#fff" stroke="#1a1a1a" stroke-width="1.1"/>
<ellipse cx="733.0" cy="760" rx="7.5" ry="8" fill="#5a5a5a" stroke="#1a1a1a" stroke-width="1"/>
<ellipse cx="731.3" cy="759" rx="5.3" ry="6.5" fill="#fff"/>
<path d="M754.0,774.5 L812.8,807.1" stroke="#151515" stroke-width="11.4" stroke-linecap="round"/>
<path d="M754.0,774.5 L812.8,807.1" stroke="#ececec" stroke-width="9.0" stroke-linecap="round"/>
<path d="M759.0,772.3 L753.1,778.9 M761.0,773.5 L755.1,780.0 M763.0,774.6 L757.1,781.1 M765.0,775.7 L759.1,782.2 M767.0,776.8 L761.1,783.4 M769.0,777.9 L763.1,784.5 M771.0,779.0 L765.1,785.6 M773.1,780.1 L767.1,786.7 M775.1,781.3 L769.1,787.8 M777.1,782.4 L771.2,788.9 M779.1,783.5 L773.2,790.0 M781.1,784.6 L775.2,791.2 M783.1,785.7 L777.2,792.3 M785.1,786.8 L779.2,793.4 M787.1,788.0 L781.2,794.5 M789.1,789.1 L783.2,795.6 M791.2,790.2 L785.2,796.7 M793.2,791.3 L787.2,797.9 M795.2,792.4 L789.3,799.0 M797.2,793.5 L791.3,800.1 M799.2,794.7 L793.3,801.2 M801.2,795.8 L795.3,802.3 M803.2,796.9 L797.3,803.4 M805.2,798.0 L799.3,804.6 M807.2,799.1 L801.3,805.7 M809.3,800.2 L803.3,806.8 M811.3,801.3 L805.3,807.9 M813.3,802.5 L807.4,809.0 M815.3,803.6 L809.4,810.1 " stroke="#8a8a8a" stroke-width="0.85"/>
<ellipse cx="818" cy="810" rx="11.2" ry="11.8" fill="#f8f8f8" stroke="#151515" stroke-width="1.4"/>
<path d="M810.0,814.0 Q811.0,804.0 817.0,801.0" fill="none" stroke="#333" stroke-width="0.6"/>
<path d="M817.0,805.0 L820.0,816.0 M813.5,812.5 L824.0,808.5" stroke="#222" stroke-width="1.1"/>
<path d="M714.0,797.0 L771.3,830.5" stroke="#151515" stroke-width="11.4" stroke-linecap="round"/>
<path d="M714.0,797.0 L771.3,830.5" stroke="#ececec" stroke-width="9.0" stroke-linecap="round"/>
<path d="M719.0,795.0 L713.0,801.4 M721.0,796.1 L714.9,802.5 M723.0,797.3 L716.9,803.7 M725.0,798.4 L718.9,804.8 M727.0,799.6 L720.9,806.0 M728.9,800.8 L722.9,807.2 M730.9,801.9 L724.9,808.3 M732.9,803.1 L726.9,809.5 M734.9,804.2 L728.8,810.6 M736.9,805.4 L730.8,811.8 M738.9,806.5 L732.8,813.0 M740.9,807.7 L734.8,814.1 M742.9,808.9 L736.8,815.3 M744.8,810.0 L738.8,816.4 M746.8,811.2 L740.8,817.6 M748.8,812.3 L742.7,818.8 M750.8,813.5 L744.7,819.9 M752.8,814.7 L746.7,821.1 M754.8,815.8 L748.7,822.2 M756.8,817.0 L750.7,823.4 M758.7,818.1 L752.7,824.6 M760.7,819.3 L754.7,825.7 M762.7,820.5 L756.6,826.9 M764.7,821.6 L758.6,828.0 M766.7,822.8 L760.6,829.2 M768.7,823.9 L762.6,830.4 M770.7,825.1 L764.6,831.5 M772.6,826.3 L766.6,832.7 M774.6,827.4 L768.6,833.8 " stroke="#8a8a8a" stroke-width="0.85"/>
<ellipse cx="776.5" cy="833.5" rx="11.2" ry="11.8" fill="#f8f8f8" stroke="#151515" stroke-width="1.4"/>
<path d="M768.5,837.5 Q769.5,827.5 775.5,824.5" fill="none" stroke="#333" stroke-width="0.6"/>
<path d="M775.5,828.5 L778.5,839.5 M772.0,836.0 L782.5,832.0" stroke="#222" stroke-width="1.1"/>
<path d="M670.0,824.0 L728.3,856.6" stroke="#151515" stroke-width="11.4" stroke-linecap="round"/>
<path d="M670.0,824.0 L728.3,856.6" stroke="#ececec" stroke-width="9.0" stroke-linecap="round"/>
<path d="M675.0,821.9 L669.0,828.4 M677.0,823.0 L671.0,829.5 M679.0,824.1 L673.1,830.6 M681.0,825.2 L675.1,831.8 M683.0,826.3 L677.1,832.9 M685.0,827.5 L679.1,834.0 M687.0,828.6 L681.1,835.1 M689.0,829.7 L683.1,836.2 M691.0,830.8 L685.1,837.4 M693.0,832.0 L687.1,838.5 M695.1,833.1 L689.1,839.6 M697.1,834.2 L691.1,840.7 M699.1,835.3 L693.1,841.9 M701.1,836.4 L695.1,843.0 M703.1,837.6 L697.1,844.1 M705.1,838.7 L699.2,845.2 M707.1,839.8 L701.2,846.3 M709.1,840.9 L703.2,847.5 M711.1,842.1 L705.2,848.6 M713.1,843.2 L707.2,849.7 M715.1,844.3 L709.2,850.8 M717.1,845.4 L711.2,852.0 M719.1,846.5 L713.2,853.1 M721.2,847.7 L715.2,854.2 M723.2,848.8 L717.2,855.3 M725.2,849.9 L719.2,856.4 M727.2,851.0 L721.2,857.6 M729.2,852.2 L723.2,858.7 M731.2,853.3 L725.2,859.8 " stroke="#8a8a8a" stroke-width="0.85"/>
<ellipse cx="733.5" cy="859.5" rx="11.2" ry="11.8" fill="#f8f8f8" stroke="#151515" stroke-width="1.4"/>
<path d="M725.5,863.5 Q726.5,853.5 732.5,850.5" fill="none" stroke="#333" stroke-width="0.6"/>
<path d="M732.5,854.5 L735.5,865.5 M729.0,862.0 L739.5,858.0" stroke="#222" stroke-width="1.1"/>
<path d="M782.8,754.6 L782.8,763.4 L850,792.2 L918,773.8 L918.8,765 L851.6,784.2 Z" fill="#fdfdfd" stroke="#333" stroke-width="0.9" stroke-linejoin="round"/>
<path d="M782.8,754.6 Q820,744 849.2,732.2 L918.8,765 L851.6,784.2 Z" fill="#c9c9c9" stroke="#333" stroke-width="0.9" stroke-linejoin="round"/>
<path d="M776.9,879.8 L776.9,884.4 L805.8,909.4 L923.2,884.9 L923.2,880.6 Z" fill="#d4d4d4" stroke="#555" stroke-width="0.9" stroke-linejoin="round"/>
<path d="M776.9,879.8 L885.8,860.2 L923.2,880.6 L805.8,904.4Z" fill="#dcdcdc" stroke="#555" stroke-width="0.9" stroke-linejoin="round"/>
<path d="M776.9,872.0 L776.9,876.6 L805.8,901.6 L923.2,877.1 L923.2,872.8 Z" fill="#d4d4d4" stroke="#555" stroke-width="0.9" stroke-linejoin="round"/>
<path d="M776.9,872.0 L885.8,852.4 L923.2,872.8 L805.8,896.6Z" fill="#dcdcdc" stroke="#555" stroke-width="0.9" stroke-linejoin="round"/>
<path d="M776.9,864.2 L776.9,868.8 L805.8,893.8 L923.2,869.3 L923.2,865.0 Z" fill="#d4d4d4" stroke="#555" stroke-width="0.9" stroke-linejoin="round"/>
<path d="M776.9,864.2 L885.8,844.6 L923.2,865.0 L805.8,888.8Z" fill="#dcdcdc" stroke="#555" stroke-width="0.9" stroke-linejoin="round"/>
<path d="M776.9,856.4 L776.9,861.0 L805.8,886.0 L923.2,861.5 L923.2,857.2 Z" fill="#d4d4d4" stroke="#555" stroke-width="0.9" stroke-linejoin="round"/>
<path d="M776.9,856.4 L885.8,836.8 L923.2,857.2 L805.8,881.0Z" fill="#dcdcdc" stroke="#555" stroke-width="0.9" stroke-linejoin="round"/>
<rect x="790.4" y="860.7" width="1.6" height="1.2" fill="#9a9a9a"/>
<rect x="791.7" y="861.0" width="1.6" height="1.2" fill="#9a9a9a"/>
<rect x="794.3" y="858.3" width="1.6" height="1.2" fill="#9a9a9a"/>
<rect x="788.1" y="862.2" width="1.6" height="1.2" fill="#9a9a9a"/>
<rect x="790.6" y="859.2" width="1.6" height="1.2" fill="#9a9a9a"/>
<rect x="798.0" y="860.4" width="1.6" height="1.2" fill="#9a9a9a"/>
<rect x="796.4" y="860.4" width="1.6" height="1.2" fill="#9a9a9a"/>
<rect x="794.4" y="858.8" width="1.6" height="1.2" fill="#9a9a9a"/>
<rect x="794.3" y="862.3" width="1.6" height="1.2" fill="#9a9a9a"/>
<rect x="793.2" y="861.7" width="1.6" height="1.2" fill="#9a9a9a"/>
<rect x="794.7" y="858.3" width="1.6" height="1.2" fill="#9a9a9a"/>
<rect x="795.6" y="861.0" width="1.6" height="1.2" fill="#9a9a9a"/>
<rect x="791.0" y="858.2" width="1.6" height="1.2" fill="#9a9a9a"/>
<rect x="796.7" y="860.4" width="1.6" height="1.2" fill="#9a9a9a"/>
<rect x="795.2" y="862.4" width="1.6" height="1.2" fill="#9a9a9a"/>
<rect x="795.1" y="862.6" width="1.6" height="1.2" fill="#9a9a9a"/>
<rect x="817.1" y="876.8" width="1.6" height="1.2" fill="#9a9a9a"/>
<rect x="818.0" y="877.6" width="1.6" height="1.2" fill="#9a9a9a"/>
<rect x="825.8" y="872.6" width="1.6" height="1.2" fill="#9a9a9a"/>
<rect x="812.4" y="873.3" width="1.6" height="1.2" fill="#9a9a9a"/>
<rect x="827.4" y="874.6" width="1.6" height="1.2" fill="#9a9a9a"/>
<rect x="821.3" y="873.8" width="1.6" height="1.2" fill="#9a9a9a"/>
<rect x="819.1" y="874.3" width="1.6" height="1.2" fill="#9a9a9a"/>
<rect x="816.3" y="875.5" width="1.6" height="1.2" fill="#9a9a9a"/>
<rect x="820.5" y="877.4" width="1.6" height="1.2" fill="#9a9a9a"/>
<rect x="822.3" y="877.6" width="1.6" height="1.2" fill="#9a9a9a"/>
<rect x="825.4" y="877.9" width="1.6" height="1.2" fill="#9a9a9a"/>
<rect x="822.1" y="873.0" width="1.6" height="1.2" fill="#9a9a9a"/>
<rect x="825.5" y="877.8" width="1.6" height="1.2" fill="#9a9a9a"/>
<rect x="826.3" y="875.4" width="1.6" height="1.2" fill="#9a9a9a"/>
<rect x="822.8" y="873.3" width="1.6" height="1.2" fill="#9a9a9a"/>
<rect x="825.0" y="875.4" width="1.6" height="1.2" fill="#9a9a9a"/>
<rect x="815.1" y="872.4" width="1.6" height="1.2" fill="#9a9a9a"/>
<rect x="825.4" y="877.9" width="1.6" height="1.2" fill="#9a9a9a"/>
<rect x="811.6" y="876.8" width="1.6" height="1.2" fill="#9a9a9a"/>
<rect x="817.4" y="872.9" width="1.6" height="1.2" fill="#9a9a9a"/>
<rect x="815.3" y="876.6" width="1.6" height="1.2" fill="#9a9a9a"/>
<rect x="825.7" y="872.3" width="1.6" height="1.2" fill="#9a9a9a"/>
<rect x="821.1" y="872.3" width="1.6" height="1.2" fill="#9a9a9a"/>
<rect x="822.9" y="874.0" width="1.6" height="1.2" fill="#9a9a9a"/>
<rect x="825.9" y="877.9" width="1.6" height="1.2" fill="#9a9a9a"/>
<rect x="819.1" y="878.0" width="1.6" height="1.2" fill="#9a9a9a"/>
<rect x="815.6" y="872.5" width="1.6" height="1.2" fill="#9a9a9a"/>
<rect x="820.8" y="872.2" width="1.6" height="1.2" fill="#9a9a9a"/>
<rect x="813.6" y="874.4" width="1.6" height="1.2" fill="#9a9a9a"/>
<rect x="821.0" y="872.9" width="1.6" height="1.2" fill="#9a9a9a"/>
<rect x="810.8" y="877.2" width="1.6" height="1.2" fill="#9a9a9a"/>
<rect x="815.6" y="877.8" width="1.6" height="1.2" fill="#9a9a9a"/>
<rect x="826.1" y="874.3" width="1.6" height="1.2" fill="#9a9a9a"/>
<rect x="818.3" y="875.1" width="1.6" height="1.2" fill="#9a9a9a"/>
<rect x="821.6" y="875.6" width="1.6" height="1.2" fill="#9a9a9a"/>
<rect x="820.1" y="875.7" width="1.6" height="1.2" fill="#9a9a9a"/>
<rect x="844.4" y="868.0" width="1.6" height="1.2" fill="#9a9a9a"/>
<rect x="839.3" y="868.9" width="1.6" height="1.2" fill="#9a9a9a"/>
<rect x="837.4" y="867.2" width="1.6" height="1.2" fill="#9a9a9a"/>
<rect x="844.8" y="868.1" width="1.6" height="1.2" fill="#9a9a9a"/>
<rect x="840.5" y="866.0" width="1.6" height="1.2" fill="#9a9a9a"/>
<rect x="839.2" y="868.3" width="1.6" height="1.2" fill="#9a9a9a"/>
<rect x="835.2" y="868.5" width="1.6" height="1.2" fill="#9a9a9a"/>
<rect x="841.3" y="866.2" width="1.6" height="1.2" fill="#9a9a9a"/>
<rect x="841.3" y="867.9" width="1.6" height="1.2" fill="#9a9a9a"/>
<rect x="841.8" y="867.4" width="1.6" height="1.2" fill="#9a9a9a"/>
<rect x="842.1" y="869.0" width="1.6" height="1.2" fill="#9a9a9a"/>
<rect x="835.2" y="866.2" width="1.6" height="1.2" fill="#9a9a9a"/>
<rect x="841.8" y="869.9" width="1.6" height="1.2" fill="#9a9a9a"/>
<rect x="878.5" y="847.3" width="1.6" height="1.2" fill="#9a9a9a"/>
<rect x="883.3" y="846.6" width="1.6" height="1.2" fill="#9a9a9a"/>
<rect x="880.1" y="846.6" width="1.6" height="1.2" fill="#9a9a9a"/>
<rect x="880.2" y="848.0" width="1.6" height="1.2" fill="#9a9a9a"/>
<rect x="879.2" y="846.9" width="1.6" height="1.2" fill="#9a9a9a"/>
<rect x="885.8" y="845.1" width="1.6" height="1.2" fill="#9a9a9a"/>
<rect x="883.0" y="848.7" width="1.6" height="1.2" fill="#9a9a9a"/>
<rect x="879.3" y="846.1" width="1.6" height="1.2" fill="#9a9a9a"/>
<rect x="886.3" y="846.2" width="1.6" height="1.2" fill="#9a9a9a"/>
<rect x="877.6" y="847.2" width="1.6" height="1.2" fill="#9a9a9a"/>
<rect x="884.8" y="845.5" width="1.6" height="1.2" fill="#9a9a9a"/>
<rect x="879.5" y="846.7" width="1.6" height="1.2" fill="#9a9a9a"/>
<rect x="886.7" y="847.2" width="1.6" height="1.2" fill="#9a9a9a"/>
<rect x="887.0" y="845.8" width="1.6" height="1.2" fill="#9a9a9a"/>
<rect x="879.7" y="848.3" width="1.6" height="1.2" fill="#9a9a9a"/>
<rect x="887.4" y="847.3" width="1.6" height="1.2" fill="#9a9a9a"/>
<rect x="878.2" y="845.6" width="1.6" height="1.2" fill="#9a9a9a"/>
<rect x="882.4" y="846.0" width="1.6" height="1.2" fill="#9a9a9a"/>
<rect x="886.3" y="849.2" width="1.6" height="1.2" fill="#9a9a9a"/>
<rect x="877.6" y="846.4" width="1.6" height="1.2" fill="#9a9a9a"/>
<rect x="886.3" y="848.2" width="1.6" height="1.2" fill="#9a9a9a"/>
<rect x="886.3" y="846.7" width="1.6" height="1.2" fill="#9a9a9a"/>
<rect x="876.8" y="846.5" width="1.6" height="1.2" fill="#9a9a9a"/>
<rect x="902.9" y="851.4" width="1.6" height="1.2" fill="#9a9a9a"/>
<rect x="898.5" y="852.1" width="1.6" height="1.2" fill="#9a9a9a"/>
<rect x="899.2" y="852.0" width="1.6" height="1.2" fill="#9a9a9a"/>
<rect x="904.2" y="850.8" width="1.6" height="1.2" fill="#9a9a9a"/>
<rect x="895.0" y="854.7" width="1.6" height="1.2" fill="#9a9a9a"/>
<rect x="903.8" y="854.9" width="1.6" height="1.2" fill="#9a9a9a"/>
<rect x="899.3" y="854.8" width="1.6" height="1.2" fill="#9a9a9a"/>
<rect x="904.3" y="851.1" width="1.6" height="1.2" fill="#9a9a9a"/>
<rect x="902.5" y="854.2" width="1.6" height="1.2" fill="#9a9a9a"/>
<rect x="901.6" y="852.6" width="1.6" height="1.2" fill="#9a9a9a"/>
<rect x="897.9" y="851.7" width="1.6" height="1.2" fill="#9a9a9a"/>
<rect x="897.3" y="850.3" width="1.6" height="1.2" fill="#9a9a9a"/>
<rect x="900.9" y="851.4" width="1.6" height="1.2" fill="#9a9a9a"/>
<rect x="903.1" y="850.2" width="1.6" height="1.2" fill="#9a9a9a"/>
<rect x="904.0" y="853.5" width="1.6" height="1.2" fill="#9a9a9a"/>
<rect x="904.2" y="854.5" width="1.6" height="1.2" fill="#9a9a9a"/>
<rect x="910.4" y="857.3" width="1.6" height="1.2" fill="#9a9a9a"/>
<rect x="905.1" y="858.0" width="1.6" height="1.2" fill="#9a9a9a"/>
<rect x="906.0" y="856.2" width="1.6" height="1.2" fill="#9a9a9a"/>
<rect x="909.0" y="857.1" width="1.6" height="1.2" fill="#9a9a9a"/>
<rect x="907.5" y="858.8" width="1.6" height="1.2" fill="#9a9a9a"/>
<rect x="908.7" y="856.4" width="1.6" height="1.2" fill="#9a9a9a"/>
<rect x="906.5" y="858.4" width="1.6" height="1.2" fill="#9a9a9a"/>
<rect x="907.9" y="858.1" width="1.6" height="1.2" fill="#9a9a9a"/>
<rect x="840.8" y="853.2" width="1.6" height="1.2" fill="#9a9a9a"/>
<rect x="842.3" y="856.9" width="1.6" height="1.2" fill="#9a9a9a"/>
<rect x="839.4" y="856.8" width="1.6" height="1.2" fill="#9a9a9a"/>
<rect x="845.4" y="856.8" width="1.6" height="1.2" fill="#9a9a9a"/>
<rect x="844.6" y="852.0" width="1.6" height="1.2" fill="#9a9a9a"/>
<rect x="843.0" y="857.2" width="1.6" height="1.2" fill="#9a9a9a"/>
<rect x="838.4" y="853.6" width="1.6" height="1.2" fill="#9a9a9a"/>
<rect x="840.1" y="855.2" width="1.6" height="1.2" fill="#9a9a9a"/>
<rect x="841.4" y="854.8" width="1.6" height="1.2" fill="#9a9a9a"/>
<rect x="844.2" y="852.0" width="1.6" height="1.2" fill="#9a9a9a"/>
<rect x="838.4" y="852.8" width="1.6" height="1.2" fill="#9a9a9a"/>
<rect x="839.0" y="852.4" width="1.6" height="1.2" fill="#9a9a9a"/>
<rect x="845.8" y="857.1" width="1.6" height="1.2" fill="#9a9a9a"/>
<rect x="838.7" y="855.0" width="1.6" height="1.2" fill="#9a9a9a"/>
<rect x="840.5" y="853.9" width="1.6" height="1.2" fill="#9a9a9a"/>
<rect x="840.8" y="855.9" width="1.6" height="1.2" fill="#9a9a9a"/>
<path d="M100,676.8 L171,719.2" fill="none" stroke="#111" stroke-width="1.6"/>
<path d="M176.2,722.4 L248,763.5" fill="none" stroke="#111" stroke-width="1.6"/>
<path d="M177.8,710.4 C176,714 174,717.5 171.8,718.8 C170.5,721 169.8,724 169.4,726.8 M181.4,714 C179.5,717 177.5,720.5 175,722.4 C173.5,725 172.8,728 172.2,730.8" fill="none" stroke="#444" stroke-width="0.8"/>
<path d="M69.5,659 C70.5,655.5 74,654 77.5,655.5 C81,657.5 85,664 88.5,668 L87.8,672.8 C83,672.5 79,671.5 75,670 C71,668.5 68.5,663 69.5,659 Z" fill="#fafafa" stroke="#222" stroke-width="1" stroke-linejoin="round"/>
<path d="M88,668.8 C89,667.5 91,667.5 92,668.2 L99.5,673.5 C101,674.5 101,676.5 100,678 L98.5,680 C97.5,681 96,681 95,680.3 L88.5,675.5 C87.5,674.5 87.3,673 87.5,671.5 Z" fill="#f4f4f4" stroke="#222" stroke-width="1" stroke-linejoin="round"/>
<path d="M92.5,669 L90,675" stroke="#333" stroke-width="0.7"/>
<ellipse cx="76.2" cy="662.8" rx="2.9" ry="3.9" transform="rotate(-25 76.2 662.8)" fill="#fff" stroke="#222" stroke-width="0.9"/>
<path d="M244,761 L256.4,768.2" stroke="#6a6a6a" stroke-width="4.5" stroke-linecap="round"/>
<path d="M261.8,753.2 L276.5,761.0 L273.2,769.4 L258.2,765.2Z" fill="#6e6e6e" stroke="#555" stroke-width="0.8" stroke-linejoin="round"/>
<path d="M262.2,757.8 L274.5,763.8 M260.8,761.9 L273.2,766.6" stroke="#e8e8e8" stroke-width="1.2"/>
<path d="M257.0,767.0 L271.4,773.6 L267.8,781.4 L254.0,776.0Z" fill="#6e6e6e" stroke="#555" stroke-width="0.8" stroke-linejoin="round"/>
<path d="M257.6,770.7 L269.3,776.2 M256.4,773.6 L267.9,778.8" stroke="#e8e8e8" stroke-width="1.2"/>
<path d="M253.4,778.4 L266.0,785.0 L262.7,792.8 L249.5,785.6Z" fill="#6e6e6e" stroke="#555" stroke-width="0.8" stroke-linejoin="round"/>
<path d="M253.7,781.6 L264.0,787.6 M252.2,783.7 L262.7,790.2" stroke="#e8e8e8" stroke-width="1.2"/>
<path d="M262,753 L249.5,785.6" stroke="#666" stroke-width="4"/>
<path d="M57,713 C72,742 100,762 135,768 C170,773.5 205,772 227,781" fill="none" stroke="#111" stroke-width="1.4"/>
<path d="M122.0,790.0 L121.5,791.3 L121.5,792.4 L122.1,793.1 L123.3,793.6 L124.7,793.9 L125.9,794.4 L126.4,795.1 L126.3,796.3 L125.8,797.6 L125.4,798.9 L125.4,800.0 L126.1,800.6 L127.4,801.1 L128.8,801.4 L129.9,801.9 L130.3,802.7 L130.2,803.9 L129.7,805.2 L129.2,806.5 L129.3,807.5 L130.1,808.2 L131.4,808.5 L132.8,808.9 L133.8,809.4 L134.2,810.3 L134.0,811.4 L133.5,812.8 L133.1,814.0 L133.3,815.0 L134.1,815.6 L135.5,816.0 L136.8,816.4 L137.8,816.9 L138.1,817.8 L137.9,819.0 L137.3,820.4 L137.0,821.6 L137.2,822.6 L138.1,823.1 L139.5,823.5 C146,827 150,830 156,833" fill="none" stroke="#111" stroke-width="1.2"/>
<path d="M122.0,790.0 L123.4,790.4 L124.3,790.9 L124.5,791.9 L124.2,793.1 L123.6,794.5 L123.4,795.7 L123.7,796.6 L124.7,797.1 L126.0,797.5 L127.4,797.9 L128.2,798.5 L128.4,799.5 L128.0,800.7 L127.5,802.1 L127.3,803.2 L127.7,804.1 L128.7,804.6 L130.1,805.0 L131.4,805.3 L132.2,806.0 L132.3,807.0 L131.8,808.3 L131.3,809.6 L131.2,810.8 L131.6,811.6 L132.7,812.1 L134.1,812.4 L135.4,812.9 L136.1,813.5 L136.1,814.6 L135.7,815.9 L135.2,817.2 L135.1,818.4 L135.6,819.1 L136.8,819.6 L138.2,819.9 L139.4,820.4 L140.0,821.1 L140.0,822.2 L139.5,823.5" fill="none" stroke="#666" stroke-width="0.9"/>
<path d="M112.5,782 L119.5,790.5 M121.5,777.5 L126,788.5" stroke="#333" stroke-width="3.6" stroke-linecap="round"/>
<path d="M112.5,782 L119.5,790.5 M121.5,777.5 L126,788.5" stroke="#bdbdbd" stroke-width="2" stroke-linecap="round"/>
<path d="M92,824 C105,821 120,820 139,823.2" fill="none" stroke="#1a1a1a" stroke-width="1.1"/>
<path d="M80.4,829.5 L92.1,824" stroke="#333" stroke-width="3.6" stroke-linecap="round"/>
<path d="M80.4,829.5 L92.1,824" stroke="#e0e0e0" stroke-width="2" stroke-linecap="round"/>
<path d="M156.5,832.5 L291.5,906.5" fill="none" stroke="#000" stroke-width="7.6" stroke-linecap="round" stroke-linejoin="round"/>
<path d="M244.5,875 C246,878 244,880 243.5,882 C243,884 240.5,886 240,888.5 L242.2,889.2 C243,887 245.5,885 246,883 C246.5,881 248.5,879 247,876 Z" fill="#fff"/>
<path d="M244.5,873 C246,876 245,878.5 244.5,881 M240.2,890 C241,887 243,885.5 243.5,883 M247.5,874.5 C248.5,877 247.5,879.5 247,881.5 M242.5,891 C243.5,888 245.5,886 246,884" fill="none" stroke="#777" stroke-width="0.7"/>
<path d="M290,907.4 Q305,914 329.5,913" fill="none" stroke="#222" stroke-width="1.1" stroke-linecap="round"/>
<path d="M290,907.4 Q308,918 332.8,916.2" fill="none" stroke="#222" stroke-width="1.1" stroke-linecap="round"/>
<path d="M290,907.4 Q310,922 334,920.6" fill="none" stroke="#222" stroke-width="1.1" stroke-linecap="round"/>
<path d="M328.4,891.4 L365.5,882.3 L380.9,905.1 L383.0,914.2 L381.6,923.3 L372.5,926.4 L362.0,927.1 L347.3,928.5 L340.3,929.6 L338.9,925.4 L325.6,907.5 L328.4,902.3Z" fill="#9a9a9c" stroke="#111" stroke-width="1.4" stroke-linejoin="round"/>
<path d="M343.1,900.9 L363.4,896.7 L380.2,914.2 L356.4,924.0Z" fill="#b2b2b4" stroke="#222" stroke-width="0.9"/>
<path d="M328.4,902.3 L343.1,900.9 M363.4,896.7 L365.5,882.3 M356.4,924 L362,927.1 M380.2,914.2 L383,914.2" fill="none" stroke="#222" stroke-width="0.9"/>
<path d="M331,895 L362,887 M330.5,898 L363,890.5 M341,889 L345,900 M351,886.5 L354,898" fill="none" stroke="#333" stroke-width="0.8"/>
<path d="M329.4,910.3 L343.8,903.8 M331.3,913.0 L345.4,906.7 M333.1,915.8 L347.1,909.6 M335.0,918.5 L348.8,912.5 M336.8,921.3 L350.4,915.3 M338.6,924.1 L352.1,918.2 M340.5,926.8 L353.7,921.1 " fill="none" stroke="#333" stroke-width="0.8"/>
<path d="M365,888 L378,907 M368,886 L381,905 M366,893 L371,890 M369,898 L374,895 M372,903 L377,900 M375,908 L380,905" fill="none" stroke="#333" stroke-width="0.8"/>
<ellipse cx="359.5" cy="902" rx="2.5" ry="1.3" transform="rotate(-15 359.5 902)" fill="#888" stroke="#222" stroke-width="0.8"/>
<ellipse cx="368.5" cy="917" rx="2.5" ry="1.3" transform="rotate(-15 368.5 917)" fill="#888" stroke="#222" stroke-width="0.8"/>
<path d="M275.5,815.5 L296,815.5 L300,820.5 L305.5,820.5 L313,820.8 L313,826 L305.5,826.2 L300,825.5 L296,830.5 L275.5,830.5 Z" fill="#fbfbfb" stroke="#222" stroke-width="1" stroke-linejoin="round"/>
<path d="M296,815.5 L296,830.5 M300,820.5 L300,825.5 M305.5,820.5 L305.5,826.2 M277,819 L289,819 M277,823 L289,823 M277,827 L289,827" fill="none" stroke="#333" stroke-width="0.8"/>
<path d="M313.5,823.5 Q345,825 372,840" fill="none" stroke="#1a1a1a" stroke-width="1.1" stroke-linecap="round"/>
<path d="M373,841 L482,903" fill="none" stroke="#000" stroke-width="7" stroke-linecap="round" stroke-linejoin="round"/>
<path d="M482,903.5 Q500,906 516.3,905.4" fill="none" stroke="#222" stroke-width="1.1" stroke-linecap="round"/>
<path d="M482,903.5 Q500,910 512,913" fill="none" stroke="#222" stroke-width="1.1" stroke-linecap="round"/>
<path d="M482,903.5 Q495,915 503.1,927.4" fill="none" stroke="#222" stroke-width="1.1" stroke-linecap="round"/>
<path d="M482,903.5 Q492,920 503.1,939.5" fill="none" stroke="#222" stroke-width="1.1" stroke-linecap="round"/>
<path d="M504.2,914.8 L516.3,913.1 L517.4,902.7 L537.2,901.0 L543.8,904.3 L544.9,908.7 L566.9,915.3 L568.0,920.3 L572.4,923.0 L570.8,936.8 L568.6,940.0 L569.7,954.9 L546.0,960.4 L536.1,962.6 L521.8,953.8 L504.2,950.5Z" fill="#9c9c9e" stroke="#111" stroke-width="1.5" stroke-linejoin="round"/>
<path d="M506.5,918 L509.5,918.5 L509.5,948 L506.5,947.5 Z" fill="#f0f0f0" stroke="#333" stroke-width="0.6"/>
<path d="M513,916 L513,953 M513,918.5 L572.4,923 M517.4,902.7 L522,907 L543.8,911 M522,907 L522,916 M524,911 L566,921 M526,913.5 L566,924 M528,908 L562,917.5 M537,901 L540,912 M544,911 L566.9,915.3" fill="none" stroke="#222" stroke-width="0.8"/>
<path d="M521,922 L536,926 L536,930 L521,927 Z M520,936 L541,942 L541,946 L520,941 Z" fill="#8a8a8a" stroke="#222" stroke-width="0.8"/>
<rect x="549" y="926" width="8" height="6" fill="#8f8f8f" stroke="#222" stroke-width="0.8"/>
<rect x="559" y="928" width="8" height="6" fill="#8f8f8f" stroke="#222" stroke-width="0.8"/>
<rect x="547" y="942" width="8" height="6" fill="#8f8f8f" stroke="#222" stroke-width="0.8"/>
<rect x="558" y="943" width="8" height="6" fill="#8f8f8f" stroke="#222" stroke-width="0.8"/>
<path d="M537,925 L537,962 M546,931 L546,960 M536,942 L571,936" fill="none" stroke="#222" stroke-width="0.8"/></svg></body></html>
